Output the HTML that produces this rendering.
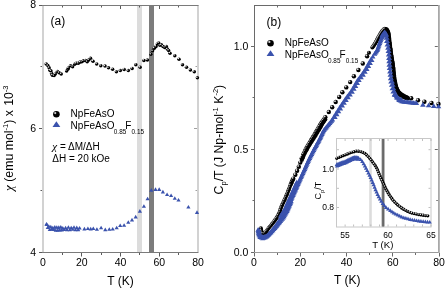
<!DOCTYPE html>
<html><head><meta charset="utf-8"><style>
html,body{margin:0;padding:0;background:#fff;width:445px;height:288px;overflow:hidden}
svg{display:block}
text{font-family:"Liberation Sans", sans-serif;fill:#000}
</style></head><body>
<svg width="445" height="288" viewBox="0 0 445 288" style="will-change:transform">
<rect width="445" height="288" fill="#fff"/>
<rect x="137" y="5" width="5" height="247" fill="#dcdcdc"/>
<rect x="149" y="5" width="5" height="247" fill="#7c7c7c"/>
<rect x="42" y="5" width="2" height="247" fill="#d2d2d2"/>
<rect x="197" y="5" width="2" height="247" fill="#d2d2d2"/>
<rect x="42" y="5" width="156.5" height="1" fill="#7a7a7a"/>
<rect x="42" y="252" width="156.5" height="1" fill="#7a7a7a"/>
<rect x="62" y="253" width="1" height="2" fill="#5a5a5a"/>
<rect x="62" y="6" width="1" height="1.5" fill="#5a5a5a"/>
<rect x="81" y="253" width="1" height="3.5" fill="#5a5a5a"/>
<rect x="81" y="6" width="1" height="3" fill="#5a5a5a"/>
<rect x="101" y="253" width="1" height="2" fill="#5a5a5a"/>
<rect x="101" y="6" width="1" height="1.5" fill="#5a5a5a"/>
<rect x="120" y="253" width="1" height="3.5" fill="#5a5a5a"/>
<rect x="120" y="6" width="1" height="3" fill="#5a5a5a"/>
<rect x="139" y="253" width="1" height="2" fill="#5a5a5a"/>
<rect x="139" y="6" width="1" height="1.5" fill="#5a5a5a"/>
<rect x="159" y="253" width="1" height="3.5" fill="#5a5a5a"/>
<rect x="159" y="6" width="1" height="3" fill="#5a5a5a"/>
<rect x="178" y="253" width="1" height="2" fill="#5a5a5a"/>
<rect x="178" y="6" width="1" height="1.5" fill="#5a5a5a"/>
<rect x="39" y="252" width="3" height="1" fill="#5a5a5a"/>
<rect x="40.5" y="190" width="1.5" height="1" fill="#5a5a5a"/>
<rect x="195.5" y="190" width="1.5" height="1" fill="#a0a0a0"/>
<rect x="39" y="128" width="3" height="1" fill="#5a5a5a"/>
<rect x="194" y="128" width="3" height="1" fill="#a0a0a0"/>
<rect x="40.5" y="66" width="1.5" height="1" fill="#5a5a5a"/>
<rect x="195.5" y="66" width="1.5" height="1" fill="#a0a0a0"/>
<rect x="39" y="5" width="3" height="1" fill="#5a5a5a"/>
<path d="M44.4 225.6L46.5 222L48.6 225.6Z" fill="#3a52ad"/>
<path d="M44.7 225.99L46.8 222.39L48.9 225.99Z" fill="#3a52ad"/>
<path d="M45.7 229.07L47.8 225.47L49.9 229.07Z" fill="#3a52ad"/>
<path d="M46.7 227.75L48.8 224.15L50.9 227.75Z" fill="#3a52ad"/>
<path d="M47.7 231.03L49.8 227.43L51.9 231.03Z" fill="#3a52ad"/>
<path d="M48.7 228.47L50.8 224.87L52.9 228.47Z" fill="#3a52ad"/>
<path d="M49.7 230.81L51.8 227.21L53.9 230.81Z" fill="#3a52ad"/>
<path d="M50.7 229.24L52.8 225.64L54.9 229.24Z" fill="#3a52ad"/>
<path d="M51.7 231.06L53.8 227.46L55.9 231.06Z" fill="#3a52ad"/>
<path d="M52.7 228.63L54.8 225.03L56.9 228.63Z" fill="#3a52ad"/>
<path d="M53.7 231.8L55.8 228.2L57.9 231.8Z" fill="#3a52ad"/>
<path d="M54.7 228.87L56.8 225.27L58.9 228.87Z" fill="#3a52ad"/>
<path d="M55.7 231.64L57.8 228.04L59.9 231.64Z" fill="#3a52ad"/>
<path d="M56.7 228.88L58.8 225.28L60.9 228.88Z" fill="#3a52ad"/>
<path d="M57.7 231.44L59.8 227.84L61.9 231.44Z" fill="#3a52ad"/>
<path d="M58.7 228.55L60.8 224.95L62.9 228.55Z" fill="#3a52ad"/>
<path d="M59.7 231.43L61.8 227.83L63.9 231.43Z" fill="#3a52ad"/>
<path d="M60.7 229.59L62.8 225.99L64.9 229.59Z" fill="#3a52ad"/>
<path d="M62.1 231L64.2 227.4L66.3 231Z" fill="#3a52ad"/>
<path d="M63.5 229.46L65.6 225.86L67.7 229.46Z" fill="#3a52ad"/>
<path d="M64.9 231.15L67 227.55L69.1 231.15Z" fill="#3a52ad"/>
<path d="M66.3 228.78L68.4 225.18L70.5 228.78Z" fill="#3a52ad"/>
<path d="M67.7 231.24L69.8 227.64L71.9 231.24Z" fill="#3a52ad"/>
<path d="M69.1 229.31L71.2 225.71L73.3 229.31Z" fill="#3a52ad"/>
<path d="M70.5 230.78L72.6 227.18L74.7 230.78Z" fill="#3a52ad"/>
<path d="M71.9 228.75L74 225.15L76.1 228.75Z" fill="#3a52ad"/>
<path d="M73.3 231.35L75.4 227.75L77.5 231.35Z" fill="#3a52ad"/>
<path d="M74.7 229.19L76.8 225.59L78.9 229.19Z" fill="#3a52ad"/>
<path d="M76.1 231.2L78.2 227.6L80.3 231.2Z" fill="#3a52ad"/>
<path d="M77.5 229.6L79.6 226L81.7 229.6Z" fill="#3a52ad"/>
<path d="M82.3 230.4L84.4 226.8L86.5 230.4Z" fill="#3a52ad"/>
<path d="M85.8 230.1L87.9 226.5L90 230.1Z" fill="#3a52ad"/>
<path d="M88.6 230.4L90.7 226.8L92.8 230.4Z" fill="#3a52ad"/>
<path d="M91.2 230L93.3 226.4L95.4 230Z" fill="#3a52ad"/>
<path d="M94.8 230.8L96.9 227.2L99 230.8Z" fill="#3a52ad"/>
<path d="M99 229.3L101.1 225.7L103.2 229.3Z" fill="#3a52ad"/>
<path d="M103.2 231.2L105.3 227.6L107.4 231.2Z" fill="#3a52ad"/>
<path d="M107.2 230.8L109.3 227.2L111.4 230.8Z" fill="#3a52ad"/>
<path d="M110.6 230.5L112.7 226.9L114.8 230.5Z" fill="#3a52ad"/>
<path d="M114.6 229.3L116.7 225.7L118.8 229.3Z" fill="#3a52ad"/>
<path d="M118.1 227L120.2 223.4L122.3 227Z" fill="#3a52ad"/>
<path d="M122 226.8L124.1 223.2L126.2 226.8Z" fill="#3a52ad"/>
<path d="M126.2 223.8L128.3 220.2L130.4 223.8Z" fill="#3a52ad"/>
<path d="M129.9 221.4L132 217.8L134.1 221.4Z" fill="#3a52ad"/>
<path d="M133.6 218.4L135.7 214.8L137.8 218.4Z" fill="#3a52ad"/>
<path d="M137.8 212.7L139.9 209.1L142 212.7Z" fill="#3a52ad"/>
<path d="M141.8 207.8L143.9 204.2L146 207.8Z" fill="#3a52ad"/>
<path d="M145.5 200.3L147.6 196.7L149.7 200.3Z" fill="#3a52ad"/>
<path d="M149.2 191.7L151.3 188.1L153.4 191.7Z" fill="#3a52ad"/>
<path d="M153.4 190.9L155.5 187.3L157.6 190.9Z" fill="#3a52ad"/>
<path d="M157.1 190.9L159.2 187.3L161.3 190.9Z" fill="#3a52ad"/>
<path d="M160.8 193.4L162.9 189.8L165 193.4Z" fill="#3a52ad"/>
<path d="M165 196.1L167.1 192.5L169.2 196.1Z" fill="#3a52ad"/>
<path d="M169 197.1L171.1 193.5L173.2 197.1Z" fill="#3a52ad"/>
<path d="M172.7 199.8L174.8 196.2L176.9 199.8Z" fill="#3a52ad"/>
<path d="M176.4 201.6L178.5 198L180.6 201.6Z" fill="#3a52ad"/>
<path d="M186.3 208.5L188.4 204.9L190.5 208.5Z" fill="#3a52ad"/>
<path d="M194.9 213.9L197 210.3L199.1 213.9Z" fill="#3a52ad"/>
<circle cx="46.2" cy="63.9" r="1.75" fill="#000"/>
<circle cx="45.6" cy="63.25" r="0.75" fill="#fff" fill-opacity="0.9"/>
<circle cx="47.8" cy="65.6" r="1.75" fill="#000"/>
<circle cx="47.2" cy="64.95" r="0.75" fill="#fff" fill-opacity="0.9"/>
<circle cx="49.1" cy="67.7" r="1.75" fill="#000"/>
<circle cx="48.5" cy="67.05" r="0.75" fill="#fff" fill-opacity="0.9"/>
<circle cx="49.9" cy="70.2" r="1.75" fill="#000"/>
<circle cx="49.3" cy="69.55" r="0.75" fill="#fff" fill-opacity="0.9"/>
<circle cx="51" cy="71" r="1.75" fill="#000"/>
<circle cx="50.4" cy="70.35" r="0.75" fill="#fff" fill-opacity="0.9"/>
<circle cx="51.6" cy="73.5" r="1.75" fill="#000"/>
<circle cx="51" cy="72.85" r="0.75" fill="#fff" fill-opacity="0.9"/>
<circle cx="52.4" cy="75.2" r="1.75" fill="#000"/>
<circle cx="51.8" cy="74.55" r="0.75" fill="#fff" fill-opacity="0.9"/>
<circle cx="54.1" cy="75.6" r="1.75" fill="#000"/>
<circle cx="53.5" cy="74.95" r="0.75" fill="#fff" fill-opacity="0.9"/>
<circle cx="55.3" cy="73.9" r="1.75" fill="#000"/>
<circle cx="54.7" cy="73.25" r="0.75" fill="#fff" fill-opacity="0.9"/>
<circle cx="57.4" cy="71.4" r="1.75" fill="#000"/>
<circle cx="56.8" cy="70.75" r="0.75" fill="#fff" fill-opacity="0.9"/>
<circle cx="59.1" cy="72.7" r="1.75" fill="#000"/>
<circle cx="58.5" cy="72.05" r="0.75" fill="#fff" fill-opacity="0.9"/>
<circle cx="61.2" cy="73.9" r="1.75" fill="#000"/>
<circle cx="60.6" cy="73.25" r="0.75" fill="#fff" fill-opacity="0.9"/>
<circle cx="66.6" cy="71" r="1.75" fill="#000"/>
<circle cx="66" cy="70.35" r="0.75" fill="#fff" fill-opacity="0.9"/>
<circle cx="67.8" cy="69.3" r="1.75" fill="#000"/>
<circle cx="67.2" cy="68.65" r="0.75" fill="#fff" fill-opacity="0.9"/>
<circle cx="68.4" cy="67.9" r="1.75" fill="#000"/>
<circle cx="67.8" cy="67.25" r="0.75" fill="#fff" fill-opacity="0.9"/>
<circle cx="70.5" cy="65.8" r="1.75" fill="#000"/>
<circle cx="69.9" cy="65.15" r="0.75" fill="#fff" fill-opacity="0.9"/>
<circle cx="72.6" cy="66.7" r="1.75" fill="#000"/>
<circle cx="72" cy="66.05" r="0.75" fill="#fff" fill-opacity="0.9"/>
<circle cx="74.7" cy="64.2" r="1.75" fill="#000"/>
<circle cx="74.1" cy="63.55" r="0.75" fill="#fff" fill-opacity="0.9"/>
<circle cx="76.3" cy="63.3" r="1.75" fill="#000"/>
<circle cx="75.7" cy="62.65" r="0.75" fill="#fff" fill-opacity="0.9"/>
<circle cx="78.4" cy="63.3" r="1.75" fill="#000"/>
<circle cx="77.8" cy="62.65" r="0.75" fill="#fff" fill-opacity="0.9"/>
<circle cx="80.1" cy="62.1" r="1.75" fill="#000"/>
<circle cx="79.5" cy="61.45" r="0.75" fill="#fff" fill-opacity="0.9"/>
<circle cx="81.75" cy="61.7" r="1.75" fill="#000"/>
<circle cx="81.15" cy="61.05" r="0.75" fill="#fff" fill-opacity="0.9"/>
<circle cx="83.4" cy="60.8" r="1.75" fill="#000"/>
<circle cx="82.8" cy="60.15" r="0.75" fill="#fff" fill-opacity="0.9"/>
<circle cx="85.5" cy="60.4" r="1.75" fill="#000"/>
<circle cx="84.9" cy="59.75" r="0.75" fill="#fff" fill-opacity="0.9"/>
<circle cx="87.2" cy="61.7" r="1.75" fill="#000"/>
<circle cx="86.6" cy="61.05" r="0.75" fill="#fff" fill-opacity="0.9"/>
<circle cx="88.8" cy="60" r="1.75" fill="#000"/>
<circle cx="88.2" cy="59.35" r="0.75" fill="#fff" fill-opacity="0.9"/>
<circle cx="90.5" cy="58.3" r="1.75" fill="#000"/>
<circle cx="89.9" cy="57.65" r="0.75" fill="#fff" fill-opacity="0.9"/>
<circle cx="93" cy="61.25" r="1.75" fill="#000"/>
<circle cx="92.4" cy="60.6" r="0.75" fill="#fff" fill-opacity="0.9"/>
<circle cx="96.7" cy="63.9" r="1.75" fill="#000"/>
<circle cx="96.1" cy="63.25" r="0.75" fill="#fff" fill-opacity="0.9"/>
<circle cx="100.8" cy="65.7" r="1.75" fill="#000"/>
<circle cx="100.2" cy="65.05" r="0.75" fill="#fff" fill-opacity="0.9"/>
<circle cx="105" cy="66.1" r="1.75" fill="#000"/>
<circle cx="104.4" cy="65.45" r="0.75" fill="#fff" fill-opacity="0.9"/>
<circle cx="108.5" cy="67.8" r="1.75" fill="#000"/>
<circle cx="107.9" cy="67.15" r="0.75" fill="#fff" fill-opacity="0.9"/>
<circle cx="112.6" cy="69.2" r="1.75" fill="#000"/>
<circle cx="112" cy="68.55" r="0.75" fill="#fff" fill-opacity="0.9"/>
<circle cx="116.4" cy="71.7" r="1.75" fill="#000"/>
<circle cx="115.8" cy="71.05" r="0.75" fill="#fff" fill-opacity="0.9"/>
<circle cx="120.3" cy="70.6" r="1.75" fill="#000"/>
<circle cx="119.7" cy="69.95" r="0.75" fill="#fff" fill-opacity="0.9"/>
<circle cx="124.2" cy="69.4" r="1.75" fill="#000"/>
<circle cx="123.6" cy="68.75" r="0.75" fill="#fff" fill-opacity="0.9"/>
<circle cx="128.3" cy="70.6" r="1.75" fill="#000"/>
<circle cx="127.7" cy="69.95" r="0.75" fill="#fff" fill-opacity="0.9"/>
<circle cx="132.1" cy="68.5" r="1.75" fill="#000"/>
<circle cx="131.5" cy="67.85" r="0.75" fill="#fff" fill-opacity="0.9"/>
<circle cx="135.8" cy="64.7" r="1.75" fill="#000"/>
<circle cx="135.2" cy="64.05" r="0.75" fill="#fff" fill-opacity="0.9"/>
<circle cx="140.1" cy="67.3" r="1.75" fill="#000"/>
<circle cx="139.5" cy="66.65" r="0.75" fill="#fff" fill-opacity="0.9"/>
<circle cx="143.9" cy="60.4" r="1.75" fill="#000"/>
<circle cx="143.3" cy="59.75" r="0.75" fill="#fff" fill-opacity="0.9"/>
<circle cx="147.4" cy="59.9" r="1.75" fill="#000"/>
<circle cx="146.8" cy="59.25" r="0.75" fill="#fff" fill-opacity="0.9"/>
<circle cx="150.8" cy="54.3" r="1.75" fill="#000"/>
<circle cx="150.2" cy="53.65" r="0.75" fill="#fff" fill-opacity="0.9"/>
<circle cx="152.6" cy="50.8" r="1.75" fill="#000"/>
<circle cx="152" cy="50.15" r="0.75" fill="#fff" fill-opacity="0.9"/>
<circle cx="154.3" cy="48.2" r="1.75" fill="#000"/>
<circle cx="153.7" cy="47.55" r="0.75" fill="#fff" fill-opacity="0.9"/>
<circle cx="156" cy="46.5" r="1.75" fill="#000"/>
<circle cx="155.4" cy="45.85" r="0.75" fill="#fff" fill-opacity="0.9"/>
<circle cx="157.4" cy="43.9" r="1.75" fill="#000"/>
<circle cx="156.8" cy="43.25" r="0.75" fill="#fff" fill-opacity="0.9"/>
<circle cx="158.7" cy="43" r="1.75" fill="#000"/>
<circle cx="158.1" cy="42.35" r="0.75" fill="#fff" fill-opacity="0.9"/>
<circle cx="159.9" cy="45.3" r="1.75" fill="#000"/>
<circle cx="159.3" cy="44.65" r="0.75" fill="#fff" fill-opacity="0.9"/>
<circle cx="161.3" cy="44.8" r="1.75" fill="#000"/>
<circle cx="160.7" cy="44.15" r="0.75" fill="#fff" fill-opacity="0.9"/>
<circle cx="163" cy="46.5" r="1.75" fill="#000"/>
<circle cx="162.4" cy="45.85" r="0.75" fill="#fff" fill-opacity="0.9"/>
<circle cx="164.7" cy="47.4" r="1.75" fill="#000"/>
<circle cx="164.1" cy="46.75" r="0.75" fill="#fff" fill-opacity="0.9"/>
<circle cx="166.3" cy="46.5" r="1.75" fill="#000"/>
<circle cx="165.7" cy="45.85" r="0.75" fill="#fff" fill-opacity="0.9"/>
<circle cx="167.3" cy="49.1" r="1.75" fill="#000"/>
<circle cx="166.7" cy="48.45" r="0.75" fill="#fff" fill-opacity="0.9"/>
<circle cx="168.6" cy="50.5" r="1.75" fill="#000"/>
<circle cx="168" cy="49.85" r="0.75" fill="#fff" fill-opacity="0.9"/>
<circle cx="170" cy="53.2" r="1.75" fill="#000"/>
<circle cx="169.4" cy="52.55" r="0.75" fill="#fff" fill-opacity="0.9"/>
<circle cx="174.8" cy="55.7" r="1.75" fill="#000"/>
<circle cx="174.2" cy="55.05" r="0.75" fill="#fff" fill-opacity="0.9"/>
<circle cx="179" cy="59.2" r="1.75" fill="#000"/>
<circle cx="178.4" cy="58.55" r="0.75" fill="#fff" fill-opacity="0.9"/>
<circle cx="182.5" cy="64.7" r="1.75" fill="#000"/>
<circle cx="181.9" cy="64.05" r="0.75" fill="#fff" fill-opacity="0.9"/>
<circle cx="186.5" cy="67.3" r="1.75" fill="#000"/>
<circle cx="185.9" cy="66.65" r="0.75" fill="#fff" fill-opacity="0.9"/>
<circle cx="190.4" cy="70" r="1.75" fill="#000"/>
<circle cx="189.8" cy="69.35" r="0.75" fill="#fff" fill-opacity="0.9"/>
<circle cx="194.3" cy="71.7" r="1.75" fill="#000"/>
<circle cx="193.7" cy="71.05" r="0.75" fill="#fff" fill-opacity="0.9"/>
<circle cx="197.4" cy="77.8" r="1.75" fill="#000"/>
<circle cx="196.8" cy="77.15" r="0.75" fill="#fff" fill-opacity="0.9"/>
<rect x="254" y="5" width="1" height="248" fill="#6a6a6a"/>
<rect x="254" y="5" width="185" height="1" fill="#6a6a6a"/>
<rect x="254" y="252" width="185" height="1" fill="#9a9a9a"/>
<rect x="438" y="5" width="1.8" height="248" fill="#a8a8a8"/>
<rect x="254" y="253" width="1" height="3.5" fill="#6a6a6a"/>
<rect x="277" y="253" width="1" height="2" fill="#6a6a6a"/>
<rect x="277" y="6" width="1" height="1.5" fill="#6a6a6a"/>
<rect x="300" y="253" width="1" height="3.5" fill="#6a6a6a"/>
<rect x="300" y="6" width="1" height="3" fill="#6a6a6a"/>
<rect x="323" y="253" width="1" height="2" fill="#6a6a6a"/>
<rect x="323" y="6" width="1" height="1.5" fill="#6a6a6a"/>
<rect x="346" y="253" width="1" height="3.5" fill="#6a6a6a"/>
<rect x="346" y="6" width="1" height="3" fill="#6a6a6a"/>
<rect x="369" y="253" width="1" height="2" fill="#6a6a6a"/>
<rect x="369" y="6" width="1" height="1.5" fill="#6a6a6a"/>
<rect x="392" y="253" width="1" height="3.5" fill="#6a6a6a"/>
<rect x="392" y="6" width="1" height="3" fill="#6a6a6a"/>
<rect x="415" y="253" width="1" height="2" fill="#6a6a6a"/>
<rect x="415" y="6" width="1" height="1.5" fill="#6a6a6a"/>
<rect x="439" y="253" width="1" height="3.5" fill="#6a6a6a"/>
<rect x="251" y="252" width="3" height="1" fill="#6a6a6a"/>
<rect x="252.5" y="200" width="1.5" height="1" fill="#6a6a6a"/>
<rect x="436.3" y="200" width="1.5" height="1" fill="#6a6a6a"/>
<rect x="251" y="149" width="3" height="1" fill="#6a6a6a"/>
<rect x="434.8" y="149" width="3" height="1" fill="#6a6a6a"/>
<rect x="252.5" y="97" width="1.5" height="1" fill="#6a6a6a"/>
<rect x="436.3" y="97" width="1.5" height="1" fill="#6a6a6a"/>
<rect x="251" y="46" width="3" height="1" fill="#6a6a6a"/>
<rect x="434.8" y="46" width="3" height="1" fill="#6a6a6a"/>
<circle cx="260.9" cy="228.2" r="2" fill="#000"/>
<circle cx="261.21" cy="229.97" r="2" fill="#000"/>
<circle cx="261.67" cy="231.71" r="2" fill="#000"/>
<circle cx="262.5" cy="233.23" r="2" fill="#000"/>
<circle cx="263.9" cy="233.63" r="2" fill="#000"/>
<circle cx="265.33" cy="232.55" r="2" fill="#000"/>
<circle cx="266.43" cy="231.13" r="2" fill="#000"/>
<circle cx="267.51" cy="229.69" r="2" fill="#000"/>
<circle cx="268.53" cy="228.2" r="2" fill="#000"/>
<circle cx="269.67" cy="226.81" r="2" fill="#000"/>
<circle cx="270.86" cy="225.46" r="2" fill="#000"/>
<circle cx="271.99" cy="224.06" r="2" fill="#000"/>
<circle cx="273.11" cy="222.65" r="2" fill="#000"/>
<circle cx="274.19" cy="221.21" r="2" fill="#000"/>
<circle cx="275.27" cy="219.77" r="2" fill="#000"/>
<circle cx="276.36" cy="218.34" r="2" fill="#000"/>
<circle cx="277.33" cy="216.83" r="2" fill="#000"/>
<circle cx="278.12" cy="215.22" r="2" fill="#000"/>
<circle cx="278.91" cy="213.6" r="2" fill="#000"/>
<circle cx="279.67" cy="211.97" r="2" fill="#000"/>
<circle cx="280.2" cy="210.25" r="2" fill="#000"/>
<circle cx="280.73" cy="208.53" r="2" fill="#000"/>
<circle cx="281.37" cy="206.85" r="2" fill="#000"/>
<circle cx="282.03" cy="205.18" r="2" fill="#000"/>
<circle cx="282.76" cy="203.53" r="2" fill="#000"/>
<circle cx="283.54" cy="201.91" r="2" fill="#000"/>
<circle cx="284.32" cy="200.29" r="2" fill="#000"/>
<circle cx="285.05" cy="198.64" r="2" fill="#000"/>
<circle cx="285.76" cy="196.99" r="2" fill="#000"/>
<circle cx="286.47" cy="195.33" r="2" fill="#000"/>
<circle cx="287.18" cy="193.68" r="2" fill="#000"/>
<circle cx="287.86" cy="192.01" r="2" fill="#000"/>
<circle cx="288.49" cy="190.33" r="2" fill="#000"/>
<circle cx="289.12" cy="188.64" r="2" fill="#000"/>
<circle cx="289.75" cy="186.96" r="2" fill="#000"/>
<circle cx="290.39" cy="185.27" r="2" fill="#000"/>
<circle cx="291.07" cy="183.61" r="2.2" fill="#000"/>
<circle cx="290.37" cy="182.81" r="0.9" fill="#fff" fill-opacity="0.85"/>
<circle cx="291.78" cy="181.95" r="2.2" fill="#000"/>
<circle cx="291.08" cy="181.15" r="0.9" fill="#fff" fill-opacity="0.85"/>
<circle cx="292.49" cy="180.3" r="2.2" fill="#000"/>
<circle cx="291.79" cy="179.5" r="0.9" fill="#fff" fill-opacity="0.85"/>
<circle cx="293.26" cy="178.67" r="2.2" fill="#000"/>
<circle cx="292.56" cy="177.87" r="0.9" fill="#fff" fill-opacity="0.85"/>
<circle cx="295.35" cy="174.81" r="2.2" fill="#000"/>
<circle cx="294.65" cy="174.01" r="0.9" fill="#fff" fill-opacity="0.85"/>
<circle cx="297.12" cy="170.78" r="2.2" fill="#000"/>
<circle cx="296.42" cy="169.98" r="0.9" fill="#fff" fill-opacity="0.85"/>
<circle cx="298.81" cy="166.73" r="2.2" fill="#000"/>
<circle cx="298.11" cy="165.93" r="0.9" fill="#fff" fill-opacity="0.85"/>
<circle cx="300.29" cy="162.58" r="2.2" fill="#000"/>
<circle cx="299.59" cy="161.78" r="0.9" fill="#fff" fill-opacity="0.85"/>
<circle cx="301.71" cy="158.42" r="2.2" fill="#000"/>
<circle cx="301.01" cy="157.62" r="0.9" fill="#fff" fill-opacity="0.85"/>
<circle cx="303.29" cy="154.31" r="2" fill="#000"/>
<circle cx="304.04" cy="152.68" r="2" fill="#000"/>
<circle cx="304.79" cy="151.05" r="2" fill="#000"/>
<circle cx="305.55" cy="149.41" r="2" fill="#000"/>
<circle cx="306.45" cy="147.85" r="2" fill="#000"/>
<circle cx="307.35" cy="146.3" r="2" fill="#000"/>
<circle cx="308.26" cy="144.74" r="2" fill="#000"/>
<circle cx="309.17" cy="143.19" r="2" fill="#000"/>
<circle cx="310.07" cy="141.63" r="2" fill="#000"/>
<circle cx="310.98" cy="140.08" r="2" fill="#000"/>
<circle cx="311.89" cy="138.52" r="2" fill="#000"/>
<circle cx="312.8" cy="136.97" r="2" fill="#000"/>
<circle cx="313.74" cy="135.44" r="2" fill="#000"/>
<circle cx="314.68" cy="133.9" r="2" fill="#000"/>
<circle cx="315.62" cy="132.37" r="2" fill="#000"/>
<circle cx="316.57" cy="130.83" r="2" fill="#000"/>
<circle cx="317.49" cy="129.29" r="2" fill="#000"/>
<circle cx="318.38" cy="127.72" r="2" fill="#000"/>
<circle cx="319.26" cy="126.16" r="2" fill="#000"/>
<circle cx="320.15" cy="124.59" r="2" fill="#000"/>
<circle cx="321.11" cy="123.07" r="2" fill="#000"/>
<circle cx="322.16" cy="121.6" r="2" fill="#000"/>
<circle cx="323.2" cy="120.14" r="2" fill="#000"/>
<circle cx="324.25" cy="118.68" r="2" fill="#000"/>
<circle cx="368.95" cy="52.71" r="2" fill="#000"/>
<circle cx="372.34" cy="47.53" r="2" fill="#000"/>
<circle cx="373.04" cy="46.55" r="2" fill="#000"/>
<circle cx="373.73" cy="45.57" r="2" fill="#000"/>
<circle cx="374.43" cy="44.6" r="2" fill="#000"/>
<circle cx="375.04" cy="43.56" r="2" fill="#000"/>
<circle cx="375.63" cy="42.52" r="2" fill="#000"/>
<circle cx="376.23" cy="41.48" r="2" fill="#000"/>
<circle cx="376.79" cy="40.42" r="2" fill="#000"/>
<circle cx="377.33" cy="39.34" r="2" fill="#000"/>
<circle cx="377.86" cy="38.27" r="2" fill="#000"/>
<circle cx="378.4" cy="37.2" r="2" fill="#000"/>
<circle cx="379" cy="36.16" r="2" fill="#000"/>
<circle cx="379.62" cy="35.13" r="2" fill="#000"/>
<circle cx="380.24" cy="34.1" r="2" fill="#000"/>
<circle cx="380.9" cy="33.1" r="2" fill="#000"/>
<circle cx="381.56" cy="32.1" r="2" fill="#000"/>
<circle cx="382.23" cy="31.1" r="2" fill="#000"/>
<circle cx="383.04" cy="30.22" r="2" fill="#000"/>
<circle cx="383.87" cy="29.36" r="2" fill="#000"/>
<circle cx="384.79" cy="28.74" r="2" fill="#000"/>
<circle cx="385.98" cy="28.9" r="2" fill="#000"/>
<circle cx="386.92" cy="29.42" r="2" fill="#000"/>
<circle cx="387.47" cy="30.48" r="2" fill="#000"/>
<circle cx="388.02" cy="31.55" r="2" fill="#000"/>
<circle cx="388.36" cy="32.7" r="2" fill="#000"/>
<circle cx="388.71" cy="33.85" r="2" fill="#000"/>
<circle cx="388.86" cy="35.04" r="2" fill="#000"/>
<circle cx="388.99" cy="36.23" r="2" fill="#000"/>
<circle cx="389.11" cy="37.42" r="2" fill="#000"/>
<circle cx="389.24" cy="38.62" r="2" fill="#000"/>
<circle cx="389.37" cy="39.81" r="2" fill="#000"/>
<circle cx="389.49" cy="41" r="2" fill="#000"/>
<circle cx="389.63" cy="42.2" r="2" fill="#000"/>
<circle cx="389.78" cy="43.39" r="2" fill="#000"/>
<circle cx="389.94" cy="44.58" r="2" fill="#000"/>
<circle cx="390.1" cy="45.77" r="2" fill="#000"/>
<circle cx="390.26" cy="46.95" r="2" fill="#000"/>
<circle cx="390.42" cy="48.14" r="2" fill="#000"/>
<circle cx="390.58" cy="49.33" r="2" fill="#000"/>
<circle cx="390.74" cy="50.52" r="2" fill="#000"/>
<circle cx="390.9" cy="51.71" r="2" fill="#000"/>
<circle cx="391.05" cy="52.9" r="2" fill="#000"/>
<circle cx="391.21" cy="54.09" r="2" fill="#000"/>
<circle cx="391.41" cy="55.28" r="2" fill="#000"/>
<circle cx="391.6" cy="56.46" r="2" fill="#000"/>
<circle cx="391.8" cy="57.64" r="2" fill="#000"/>
<circle cx="391.99" cy="58.83" r="2" fill="#000"/>
<circle cx="392.18" cy="60.01" r="2" fill="#000"/>
<circle cx="392.38" cy="61.2" r="2" fill="#000"/>
<circle cx="392.57" cy="62.38" r="2" fill="#000"/>
<circle cx="392.77" cy="63.57" r="2" fill="#000"/>
<circle cx="392.96" cy="64.75" r="2" fill="#000"/>
<circle cx="393.1" cy="65.94" r="2" fill="#000"/>
<circle cx="393.23" cy="67.13" r="2" fill="#000"/>
<circle cx="393.36" cy="68.33" r="2" fill="#000"/>
<circle cx="393.49" cy="69.52" r="2" fill="#000"/>
<circle cx="393.62" cy="70.71" r="2" fill="#000"/>
<circle cx="393.74" cy="71.91" r="2" fill="#000"/>
<circle cx="393.87" cy="73.1" r="2" fill="#000"/>
<circle cx="394" cy="74.29" r="2" fill="#000"/>
<circle cx="394.13" cy="75.49" r="2" fill="#000"/>
<circle cx="394.26" cy="76.68" r="2" fill="#000"/>
<circle cx="394.39" cy="77.87" r="2" fill="#000"/>
<circle cx="394.59" cy="79.05" r="2" fill="#000"/>
<circle cx="394.81" cy="80.23" r="2" fill="#000"/>
<circle cx="395.03" cy="81.41" r="2" fill="#000"/>
<circle cx="395.24" cy="82.59" r="2" fill="#000"/>
<circle cx="395.46" cy="83.77" r="2" fill="#000"/>
<circle cx="395.76" cy="84.94" r="2" fill="#000"/>
<circle cx="396.08" cy="86.09" r="2" fill="#000"/>
<circle cx="396.39" cy="87.25" r="2" fill="#000"/>
<circle cx="396.78" cy="88.38" r="2" fill="#000"/>
<circle cx="397.31" cy="89.46" r="2" fill="#000"/>
<circle cx="397.83" cy="90.54" r="2" fill="#000"/>
<circle cx="398.39" cy="91.59" r="2" fill="#000"/>
<circle cx="399.24" cy="92.44" r="2" fill="#000"/>
<circle cx="400.09" cy="93.29" r="2" fill="#000"/>
<circle cx="400.97" cy="94.1" r="2" fill="#000"/>
<circle cx="402" cy="94.71" r="2" fill="#000"/>
<circle cx="403.03" cy="95.33" r="2" fill="#000"/>
<circle cx="404.07" cy="95.93" r="2" fill="#000"/>
<circle cx="405.16" cy="96.42" r="2" fill="#000"/>
<circle cx="406.26" cy="96.9" r="2" fill="#000"/>
<circle cx="407.36" cy="97.39" r="2" fill="#000"/>
<circle cx="325.3" cy="117.2" r="2.2" fill="#000"/>
<circle cx="324.6" cy="116.4" r="0.9" fill="#fff" fill-opacity="0.85"/>
<circle cx="328.8" cy="112" r="2.2" fill="#000"/>
<circle cx="328.1" cy="111.2" r="0.9" fill="#fff" fill-opacity="0.85"/>
<circle cx="332.2" cy="107.2" r="2.2" fill="#000"/>
<circle cx="331.5" cy="106.4" r="0.9" fill="#fff" fill-opacity="0.85"/>
<circle cx="335.7" cy="102" r="2.2" fill="#000"/>
<circle cx="335" cy="101.2" r="0.9" fill="#fff" fill-opacity="0.85"/>
<circle cx="339.2" cy="97" r="2.2" fill="#000"/>
<circle cx="338.5" cy="96.2" r="0.9" fill="#fff" fill-opacity="0.85"/>
<circle cx="342.4" cy="92.2" r="2.2" fill="#000"/>
<circle cx="341.7" cy="91.4" r="0.9" fill="#fff" fill-opacity="0.85"/>
<circle cx="346.3" cy="87.4" r="2.2" fill="#000"/>
<circle cx="345.6" cy="86.6" r="0.9" fill="#fff" fill-opacity="0.85"/>
<circle cx="350.2" cy="82.1" r="2.2" fill="#000"/>
<circle cx="349.5" cy="81.3" r="0.9" fill="#fff" fill-opacity="0.85"/>
<circle cx="353.9" cy="76.3" r="2.2" fill="#000"/>
<circle cx="353.2" cy="75.5" r="0.9" fill="#fff" fill-opacity="0.85"/>
<circle cx="358.4" cy="70" r="2.2" fill="#000"/>
<circle cx="357.7" cy="69.2" r="0.9" fill="#fff" fill-opacity="0.85"/>
<circle cx="362.8" cy="63.5" r="2.2" fill="#000"/>
<circle cx="362.1" cy="62.7" r="0.9" fill="#fff" fill-opacity="0.85"/>
<circle cx="367.1" cy="56.2" r="2.2" fill="#000"/>
<circle cx="366.4" cy="55.4" r="0.9" fill="#fff" fill-opacity="0.85"/>
<circle cx="411.2" cy="98.3" r="2.2" fill="#000"/>
<circle cx="410.5" cy="97.5" r="0.9" fill="#fff" fill-opacity="0.85"/>
<circle cx="418" cy="100.3" r="2.2" fill="#000"/>
<circle cx="417.3" cy="99.5" r="0.9" fill="#fff" fill-opacity="0.85"/>
<circle cx="424.4" cy="101.7" r="2.2" fill="#000"/>
<circle cx="423.7" cy="100.9" r="0.9" fill="#fff" fill-opacity="0.85"/>
<circle cx="431.5" cy="103" r="2.2" fill="#000"/>
<circle cx="430.8" cy="102.2" r="0.9" fill="#fff" fill-opacity="0.85"/>
<circle cx="438.5" cy="104" r="2.2" fill="#000"/>
<circle cx="437.8" cy="103.2" r="0.9" fill="#fff" fill-opacity="0.85"/>
<circle cx="301.9" cy="160" r="2.0" fill="#000"/>
<circle cx="302.57" cy="158.33" r="2.0" fill="#000"/>
<circle cx="303.24" cy="156.66" r="2.0" fill="#000"/>
<circle cx="303.91" cy="154.99" r="2.0" fill="#000"/>
<circle cx="304.71" cy="153.38" r="2.0" fill="#000"/>
<circle cx="305.57" cy="151.8" r="2.0" fill="#000"/>
<circle cx="306.42" cy="150.21" r="2.0" fill="#000"/>
<circle cx="307.28" cy="148.63" r="2.0" fill="#000"/>
<circle cx="308.22" cy="147.09" r="2.0" fill="#000"/>
<circle cx="309.16" cy="145.56" r="2.0" fill="#000"/>
<circle cx="310.09" cy="144.02" r="2.0" fill="#000"/>
<circle cx="311.04" cy="142.49" r="2.0" fill="#000"/>
<circle cx="312.01" cy="140.97" r="2.0" fill="#000"/>
<circle cx="312.99" cy="139.46" r="2.0" fill="#000"/>
<circle cx="313.96" cy="137.95" r="2.0" fill="#000"/>
<circle cx="314.93" cy="136.43" r="2.0" fill="#000"/>
<circle cx="315.87" cy="134.89" r="2.0" fill="#000"/>
<circle cx="316.8" cy="133.36" r="2.0" fill="#000"/>
<circle cx="317.74" cy="131.82" r="2.0" fill="#000"/>
<circle cx="318.68" cy="130.29" r="2.0" fill="#000"/>
<circle cx="319.59" cy="128.73" r="2.0" fill="#000"/>
<circle cx="320.48" cy="127.17" r="2.0" fill="#000"/>
<circle cx="321.37" cy="125.6" r="2.0" fill="#000"/>
<circle cx="322.26" cy="124.04" r="2.0" fill="#000"/>
<circle cx="323.27" cy="122.55" r="2.0" fill="#000"/>
<circle cx="324.3" cy="121.07" r="2.0" fill="#000"/>
<circle cx="325.33" cy="119.6" r="2.0" fill="#000"/>
<circle cx="395.8" cy="87" r="2.0" fill="#000"/>
<circle cx="396.22" cy="88.12" r="2.0" fill="#000"/>
<circle cx="396.64" cy="89.25" r="2.0" fill="#000"/>
<circle cx="397.06" cy="90.37" r="2.0" fill="#000"/>
<circle cx="397.59" cy="91.44" r="2.0" fill="#000"/>
<circle cx="398.26" cy="92.44" r="2.0" fill="#000"/>
<circle cx="398.92" cy="93.44" r="2.0" fill="#000"/>
<circle cx="399.63" cy="94.4" r="2.0" fill="#000"/>
<circle cx="400.58" cy="95.13" r="2.0" fill="#000"/>
<circle cx="401.53" cy="95.86" r="2.0" fill="#000"/>
<circle cx="402.49" cy="96.59" r="2.0" fill="#000"/>
<circle cx="403.6" cy="97.04" r="2.0" fill="#000"/>
<circle cx="404.71" cy="97.48" r="2.0" fill="#000"/>
<circle cx="405.83" cy="97.93" r="2.0" fill="#000"/>
<circle cx="406.98" cy="98.24" r="2.0" fill="#000"/>
<circle cx="408.15" cy="98.52" r="2.0" fill="#000"/>
<circle cx="260.2" cy="227.44" r="0.68" fill="#fff" fill-opacity="0.7"/>
<circle cx="260.51" cy="229.21" r="0.68" fill="#fff" fill-opacity="0.7"/>
<circle cx="260.97" cy="230.95" r="0.68" fill="#fff" fill-opacity="0.7"/>
<circle cx="261.8" cy="232.47" r="0.68" fill="#fff" fill-opacity="0.7"/>
<circle cx="263.2" cy="232.87" r="0.68" fill="#fff" fill-opacity="0.7"/>
<circle cx="264.63" cy="231.79" r="0.68" fill="#fff" fill-opacity="0.7"/>
<circle cx="265.73" cy="230.37" r="0.68" fill="#fff" fill-opacity="0.7"/>
<circle cx="266.81" cy="228.93" r="0.68" fill="#fff" fill-opacity="0.7"/>
<circle cx="267.83" cy="227.44" r="0.68" fill="#fff" fill-opacity="0.7"/>
<circle cx="268.97" cy="226.05" r="0.68" fill="#fff" fill-opacity="0.7"/>
<circle cx="270.16" cy="224.7" r="0.68" fill="#fff" fill-opacity="0.7"/>
<circle cx="271.29" cy="223.3" r="0.68" fill="#fff" fill-opacity="0.7"/>
<circle cx="272.41" cy="221.89" r="0.68" fill="#fff" fill-opacity="0.7"/>
<circle cx="273.49" cy="220.45" r="0.68" fill="#fff" fill-opacity="0.7"/>
<circle cx="274.57" cy="219.01" r="0.68" fill="#fff" fill-opacity="0.7"/>
<circle cx="275.66" cy="217.58" r="0.68" fill="#fff" fill-opacity="0.7"/>
<circle cx="276.63" cy="216.07" r="0.68" fill="#fff" fill-opacity="0.7"/>
<circle cx="277.42" cy="214.46" r="0.68" fill="#fff" fill-opacity="0.7"/>
<circle cx="278.21" cy="212.84" r="0.68" fill="#fff" fill-opacity="0.7"/>
<circle cx="278.97" cy="211.21" r="0.68" fill="#fff" fill-opacity="0.7"/>
<circle cx="279.5" cy="209.49" r="0.68" fill="#fff" fill-opacity="0.7"/>
<circle cx="280.03" cy="207.77" r="0.68" fill="#fff" fill-opacity="0.7"/>
<circle cx="280.67" cy="206.09" r="0.68" fill="#fff" fill-opacity="0.7"/>
<circle cx="281.33" cy="204.42" r="0.68" fill="#fff" fill-opacity="0.7"/>
<circle cx="282.06" cy="202.77" r="0.68" fill="#fff" fill-opacity="0.7"/>
<circle cx="282.84" cy="201.15" r="0.68" fill="#fff" fill-opacity="0.7"/>
<circle cx="283.62" cy="199.53" r="0.68" fill="#fff" fill-opacity="0.7"/>
<circle cx="284.35" cy="197.88" r="0.68" fill="#fff" fill-opacity="0.7"/>
<circle cx="285.06" cy="196.23" r="0.68" fill="#fff" fill-opacity="0.7"/>
<circle cx="285.77" cy="194.57" r="0.68" fill="#fff" fill-opacity="0.7"/>
<circle cx="286.48" cy="192.92" r="0.68" fill="#fff" fill-opacity="0.7"/>
<circle cx="287.16" cy="191.25" r="0.68" fill="#fff" fill-opacity="0.7"/>
<circle cx="287.79" cy="189.57" r="0.68" fill="#fff" fill-opacity="0.7"/>
<circle cx="288.42" cy="187.88" r="0.68" fill="#fff" fill-opacity="0.7"/>
<circle cx="289.05" cy="186.2" r="0.68" fill="#fff" fill-opacity="0.7"/>
<circle cx="289.69" cy="184.51" r="0.68" fill="#fff" fill-opacity="0.7"/>
<circle cx="302.59" cy="153.55" r="0.68" fill="#fff" fill-opacity="0.7"/>
<circle cx="303.34" cy="151.92" r="0.68" fill="#fff" fill-opacity="0.7"/>
<circle cx="304.09" cy="150.29" r="0.68" fill="#fff" fill-opacity="0.7"/>
<circle cx="304.85" cy="148.65" r="0.68" fill="#fff" fill-opacity="0.7"/>
<circle cx="305.75" cy="147.09" r="0.68" fill="#fff" fill-opacity="0.7"/>
<circle cx="306.65" cy="145.54" r="0.68" fill="#fff" fill-opacity="0.7"/>
<circle cx="307.56" cy="143.98" r="0.68" fill="#fff" fill-opacity="0.7"/>
<circle cx="308.47" cy="142.43" r="0.68" fill="#fff" fill-opacity="0.7"/>
<circle cx="309.37" cy="140.87" r="0.68" fill="#fff" fill-opacity="0.7"/>
<circle cx="310.28" cy="139.32" r="0.68" fill="#fff" fill-opacity="0.7"/>
<circle cx="311.19" cy="137.76" r="0.68" fill="#fff" fill-opacity="0.7"/>
<circle cx="312.1" cy="136.21" r="0.68" fill="#fff" fill-opacity="0.7"/>
<circle cx="313.04" cy="134.68" r="0.68" fill="#fff" fill-opacity="0.7"/>
<circle cx="313.98" cy="133.14" r="0.68" fill="#fff" fill-opacity="0.7"/>
<circle cx="314.92" cy="131.61" r="0.68" fill="#fff" fill-opacity="0.7"/>
<circle cx="315.87" cy="130.07" r="0.68" fill="#fff" fill-opacity="0.7"/>
<circle cx="316.79" cy="128.53" r="0.68" fill="#fff" fill-opacity="0.7"/>
<circle cx="317.68" cy="126.96" r="0.68" fill="#fff" fill-opacity="0.7"/>
<circle cx="318.56" cy="125.4" r="0.68" fill="#fff" fill-opacity="0.7"/>
<circle cx="319.45" cy="123.83" r="0.68" fill="#fff" fill-opacity="0.7"/>
<circle cx="320.41" cy="122.31" r="0.68" fill="#fff" fill-opacity="0.7"/>
<circle cx="321.46" cy="120.84" r="0.68" fill="#fff" fill-opacity="0.7"/>
<circle cx="322.5" cy="119.38" r="0.68" fill="#fff" fill-opacity="0.7"/>
<circle cx="323.55" cy="117.92" r="0.68" fill="#fff" fill-opacity="0.7"/>
<circle cx="368.25" cy="51.95" r="0.68" fill="#fff" fill-opacity="0.7"/>
<circle cx="371.64" cy="46.77" r="0.68" fill="#fff" fill-opacity="0.7"/>
<circle cx="372.34" cy="45.79" r="0.68" fill="#fff" fill-opacity="0.7"/>
<circle cx="373.03" cy="44.81" r="0.68" fill="#fff" fill-opacity="0.7"/>
<circle cx="373.73" cy="43.84" r="0.68" fill="#fff" fill-opacity="0.7"/>
<circle cx="374.34" cy="42.8" r="0.68" fill="#fff" fill-opacity="0.7"/>
<circle cx="374.93" cy="41.76" r="0.68" fill="#fff" fill-opacity="0.7"/>
<circle cx="375.53" cy="40.72" r="0.68" fill="#fff" fill-opacity="0.7"/>
<circle cx="376.09" cy="39.66" r="0.68" fill="#fff" fill-opacity="0.7"/>
<circle cx="376.63" cy="38.58" r="0.68" fill="#fff" fill-opacity="0.7"/>
<circle cx="377.16" cy="37.51" r="0.68" fill="#fff" fill-opacity="0.7"/>
<circle cx="377.7" cy="36.44" r="0.68" fill="#fff" fill-opacity="0.7"/>
<circle cx="378.3" cy="35.4" r="0.68" fill="#fff" fill-opacity="0.7"/>
<circle cx="378.92" cy="34.37" r="0.68" fill="#fff" fill-opacity="0.7"/>
<circle cx="379.54" cy="33.34" r="0.68" fill="#fff" fill-opacity="0.7"/>
<circle cx="380.2" cy="32.34" r="0.68" fill="#fff" fill-opacity="0.7"/>
<circle cx="380.86" cy="31.34" r="0.68" fill="#fff" fill-opacity="0.7"/>
<circle cx="381.53" cy="30.34" r="0.68" fill="#fff" fill-opacity="0.7"/>
<circle cx="382.34" cy="29.46" r="0.68" fill="#fff" fill-opacity="0.7"/>
<circle cx="383.17" cy="28.6" r="0.68" fill="#fff" fill-opacity="0.7"/>
<circle cx="384.09" cy="27.98" r="0.68" fill="#fff" fill-opacity="0.7"/>
<path d="M255.4 231.8L258 227.2L260.6 231.8Z" fill="#3a52ad"/>
<path d="M255.57 233.29L258.17 228.69L260.77 233.29Z" fill="#3a52ad"/>
<path d="M255.74 234.78L258.34 230.18L260.94 234.78Z" fill="#3a52ad"/>
<path d="M256.16 236.21L258.76 231.61L261.36 236.21Z" fill="#3a52ad"/>
<path d="M256.72 237.6L259.32 233L261.92 237.6Z" fill="#3a52ad"/>
<path d="M257.39 238.89L259.99 234.29L262.59 238.89Z" fill="#3a52ad"/>
<path d="M258.73 239.56L261.33 234.96L263.93 239.56Z" fill="#3a52ad"/>
<path d="M260.07 240.23L262.67 235.63L265.27 240.23Z" fill="#3a52ad"/>
<path d="M261.44 239.77L264.04 235.17L266.64 239.77Z" fill="#3a52ad"/>
<path d="M262.82 239.18L265.42 234.58L268.02 239.18Z" fill="#3a52ad"/>
<path d="M264.07 238.4L266.67 233.8L269.27 238.4Z" fill="#3a52ad"/>
<path d="M265.09 237.3L267.69 232.7L270.29 237.3Z" fill="#3a52ad"/>
<path d="M266.11 236.2L268.71 231.6L271.31 236.2Z" fill="#3a52ad"/>
<path d="M267.13 235.1L269.73 230.5L272.33 235.1Z" fill="#3a52ad"/>
<path d="M268.09 233.94L270.69 229.34L273.29 233.94Z" fill="#3a52ad"/>
<path d="M269.02 232.77L271.62 228.17L274.22 232.77Z" fill="#3a52ad"/>
<path d="M269.96 231.6L272.56 227L275.16 231.6Z" fill="#3a52ad"/>
<path d="M270.9 230.43L273.5 225.83L276.1 230.43Z" fill="#3a52ad"/>
<path d="M271.82 229.25L274.42 224.65L277.02 229.25Z" fill="#3a52ad"/>
<path d="M272.73 228.05L275.33 223.45L277.93 228.05Z" fill="#3a52ad"/>
<path d="M273.63 226.86L276.23 222.26L278.83 226.86Z" fill="#3a52ad"/>
<path d="M274.54 225.67L277.14 221.07L279.74 225.67Z" fill="#3a52ad"/>
<path d="M275.43 224.46L278.03 219.86L280.63 224.46Z" fill="#3a52ad"/>
<path d="M276.28 223.22L278.88 218.62L281.48 223.22Z" fill="#3a52ad"/>
<path d="M277.12 221.98L279.72 217.38L282.32 221.98Z" fill="#3a52ad"/>
<path d="M277.96 220.74L280.56 216.14L283.16 220.74Z" fill="#3a52ad"/>
<path d="M278.8 219.49L281.4 214.89L284 219.49Z" fill="#3a52ad"/>
<path d="M279.61 218.23L282.21 213.63L284.81 218.23Z" fill="#3a52ad"/>
<path d="M280.42 216.96L283.02 212.36L285.62 216.96Z" fill="#3a52ad"/>
<path d="M281.22 215.7L283.82 211.1L286.42 215.7Z" fill="#3a52ad"/>
<path d="M282.03 214.44L284.63 209.84L287.23 214.44Z" fill="#3a52ad"/>
<path d="M282.84 213.17L285.44 208.57L288.04 213.17Z" fill="#3a52ad"/>
<path d="M283.6 211.88L286.2 207.28L288.8 211.88Z" fill="#3a52ad"/>
<path d="M284.23 210.52L286.83 205.92L289.43 210.52Z" fill="#3a52ad"/>
<path d="M284.87 209.17L287.47 204.57L290.07 209.17Z" fill="#3a52ad"/>
<path d="M285.51 207.81L288.11 203.21L290.71 207.81Z" fill="#3a52ad"/>
<path d="M286.15 206.45L288.75 201.85L291.35 206.45Z" fill="#3a52ad"/>
<path d="M286.79 205.09L289.39 200.49L291.99 205.09Z" fill="#3a52ad"/>
<path d="M287.42 203.74L290.02 199.14L292.62 203.74Z" fill="#3a52ad"/>
<path d="M288.06 202.38L290.66 197.78L293.26 202.38Z" fill="#3a52ad"/>
<path d="M288.68 201.01L291.28 196.41L293.88 201.01Z" fill="#3a52ad"/>
<path d="M289.3 199.64L291.9 195.04L294.5 199.64Z" fill="#3a52ad"/>
<path d="M289.91 198.28L292.51 193.68L295.11 198.28Z" fill="#3a52ad"/>
<path d="M290.53 196.91L293.13 192.31L295.73 196.91Z" fill="#3a52ad"/>
<path d="M291.14 195.54L293.74 190.94L296.34 195.54Z" fill="#3a52ad"/>
<path d="M291.76 194.17L294.36 189.57L296.96 194.17Z" fill="#3a52ad"/>
<path d="M292.37 192.8L294.97 188.2L297.57 192.8Z" fill="#3a52ad"/>
<path d="M292.98 191.43L295.58 186.83L298.18 191.43Z" fill="#3a52ad"/>
<path d="M293.59 190.06L296.19 185.46L298.79 190.06Z" fill="#3a52ad"/>
<path d="M294.19 188.69L296.79 184.09L299.39 188.69Z" fill="#3a52ad"/>
<path d="M294.79 187.31L297.39 182.71L299.99 187.31Z" fill="#3a52ad"/>
<path d="M295.4 185.94L298 181.34L300.6 185.94Z" fill="#3a52ad"/>
<path d="M296 184.57L298.6 179.97L301.2 184.57Z" fill="#3a52ad"/>
<path d="M296.61 183.2L299.21 178.6L301.81 183.2Z" fill="#3a52ad"/>
<path d="M297.21 181.82L299.81 177.22L302.41 181.82Z" fill="#3a52ad"/>
<path d="M297.83 180.46L300.43 175.86L303.03 180.46Z" fill="#3a52ad"/>
<path d="M298.45 179.09L301.05 174.49L303.65 179.09Z" fill="#3a52ad"/>
<path d="M299.06 177.72L301.66 173.12L304.26 177.72Z" fill="#3a52ad"/>
<path d="M299.68 176.35L302.28 171.75L304.88 176.35Z" fill="#3a52ad"/>
<path d="M300.29 174.98L302.89 170.38L305.49 174.98Z" fill="#3a52ad"/>
<path d="M300.91 173.62L303.51 169.02L306.11 173.62Z" fill="#3a52ad"/>
<path d="M301.52 172.25L304.12 167.65L306.72 172.25Z" fill="#3a52ad"/>
<path d="M302.13 170.88L304.73 166.28L307.33 170.88Z" fill="#3a52ad"/>
<path d="M302.73 169.5L305.33 164.9L307.93 169.5Z" fill="#3a52ad"/>
<path d="M303.33 168.13L305.93 163.53L308.53 168.13Z" fill="#3a52ad"/>
<path d="M303.94 166.76L306.54 162.16L309.14 166.76Z" fill="#3a52ad"/>
<path d="M304.54 165.38L307.14 160.78L309.74 165.38Z" fill="#3a52ad"/>
<path d="M305.15 164.01L307.75 159.41L310.35 164.01Z" fill="#3a52ad"/>
<path d="M305.75 162.64L308.35 158.04L310.95 162.64Z" fill="#3a52ad"/>
<path d="M306.41 161.29L309.01 156.69L311.61 161.29Z" fill="#3a52ad"/>
<path d="M307.08 159.95L309.68 155.35L312.28 159.95Z" fill="#3a52ad"/>
<path d="M307.75 158.61L310.35 154.01L312.95 158.61Z" fill="#3a52ad"/>
<path d="M308.42 157.26L311.02 152.66L313.62 157.26Z" fill="#3a52ad"/>
<path d="M309.09 155.92L311.69 151.32L314.29 155.92Z" fill="#3a52ad"/>
<path d="M309.76 154.58L312.36 149.98L314.96 154.58Z" fill="#3a52ad"/>
<path d="M310.43 153.24L313.03 148.64L315.63 153.24Z" fill="#3a52ad"/>
<path d="M311.12 151.91L313.72 147.31L316.32 151.91Z" fill="#3a52ad"/>
<path d="M311.84 150.59L314.44 145.99L317.04 150.59Z" fill="#3a52ad"/>
<path d="M312.56 149.28L315.16 144.68L317.76 149.28Z" fill="#3a52ad"/>
<path d="M313.29 147.96L315.89 143.36L318.49 147.96Z" fill="#3a52ad"/>
<path d="M314.01 146.65L316.61 142.05L319.21 146.65Z" fill="#3a52ad"/>
<path d="M314.73 145.33L317.33 140.73L319.93 145.33Z" fill="#3a52ad"/>
<path d="M315.45 144.02L318.05 139.42L320.65 144.02Z" fill="#3a52ad"/>
<path d="M316.18 142.7L318.78 138.1L321.38 142.7Z" fill="#3a52ad"/>
<path d="M316.85 141.36L319.45 136.76L322.05 141.36Z" fill="#3a52ad"/>
<path d="M317.5 140.01L320.1 135.41L322.7 140.01Z" fill="#3a52ad"/>
<path d="M318.15 138.66L320.75 134.06L323.35 138.66Z" fill="#3a52ad"/>
<path d="M318.8 137.31L321.4 132.71L324 137.31Z" fill="#3a52ad"/>
<path d="M319.45 135.96L322.05 131.36L324.65 135.96Z" fill="#3a52ad"/>
<path d="M320.09 134.6L322.69 130L325.29 134.6Z" fill="#3a52ad"/>
<path d="M320.74 133.25L323.34 128.65L325.94 133.25Z" fill="#3a52ad"/>
<path d="M321.48 131.96L324.08 127.36L326.68 131.96Z" fill="#3a52ad"/>
<path d="M322.43 130.8L325.03 126.2L327.63 130.8Z" fill="#3a52ad"/>
<path d="M323.38 129.64L325.98 125.04L328.58 129.64Z" fill="#3a52ad"/>
<path d="M324.34 128.48L326.94 123.88L329.54 128.48Z" fill="#3a52ad"/>
<path d="M325.29 127.32L327.89 122.72L330.49 127.32Z" fill="#3a52ad"/>
<path d="M326.24 126.16L328.84 121.56L331.44 126.16Z" fill="#3a52ad"/>
<path d="M327.19 125L329.79 120.4L332.39 125Z" fill="#3a52ad"/>
<path d="M328.14 123.84L330.74 119.24L333.34 123.84Z" fill="#3a52ad"/>
<path d="M329.09 122.68L331.69 118.08L334.29 122.68Z" fill="#3a52ad"/>
<path d="M329.94 121.44L332.54 116.84L335.14 121.44Z" fill="#3a52ad"/>
<path d="M331.05 119.07L334.35 113.47L337.65 119.07Z" fill="#3a52ad"/>
<path d="M332.86 116.19L336.16 110.59L339.46 116.19Z" fill="#3a52ad"/>
<path d="M334.68 113.31L337.98 107.71L341.28 113.31Z" fill="#3a52ad"/>
<path d="M336.52 110.46L339.82 104.86L343.12 110.46Z" fill="#3a52ad"/>
<path d="M338.38 107.61L341.68 102.01L344.98 107.61Z" fill="#3a52ad"/>
<path d="M340.23 104.76L343.53 99.16L346.83 104.76Z" fill="#3a52ad"/>
<path d="M342.14 101.94L345.44 96.34L348.74 101.94Z" fill="#3a52ad"/>
<path d="M344.16 99.21L347.46 93.61L350.76 99.21Z" fill="#3a52ad"/>
<path d="M346.18 96.48L349.48 90.88L352.78 96.48Z" fill="#3a52ad"/>
<path d="M348.2 93.74L351.5 88.14L354.8 93.74Z" fill="#3a52ad"/>
<path d="M350.01 90.87L353.31 85.27L356.61 90.87Z" fill="#3a52ad"/>
<path d="M351.7 87.92L355 82.32L358.3 87.92Z" fill="#3a52ad"/>
<path d="M353.39 84.97L356.69 79.37L359.99 84.97Z" fill="#3a52ad"/>
<path d="M355.08 82.02L358.38 76.42L361.68 82.02Z" fill="#3a52ad"/>
<path d="M357.21 79.37L360.51 73.77L363.81 79.37Z" fill="#3a52ad"/>
<path d="M359.24 76.65L362.54 71.05L365.84 76.65Z" fill="#3a52ad"/>
<path d="M361.09 73.8L364.39 68.2L367.69 73.8Z" fill="#3a52ad"/>
<path d="M362.91 70.93L366.21 65.33L369.51 70.93Z" fill="#3a52ad"/>
<path d="M364.59 67.97L367.89 62.37L371.19 67.97Z" fill="#3a52ad"/>
<path d="M366.27 65.02L369.57 59.42L372.87 65.02Z" fill="#3a52ad"/>
<path d="M367.9 62.03L371.2 56.43L374.5 62.03Z" fill="#3a52ad"/>
<path d="M370.22 58.55L372.82 53.95L375.42 58.55Z" fill="#3a52ad"/>
<path d="M372.08 55.71L374.68 51.11L377.28 55.71Z" fill="#3a52ad"/>
<path d="M372.97 54.5L375.57 49.9L378.17 54.5Z" fill="#3a52ad"/>
<path d="M373.86 53.3L376.46 48.7L379.06 53.3Z" fill="#3a52ad"/>
<path d="M374.68 52.05L377.28 47.45L379.88 52.05Z" fill="#3a52ad"/>
<path d="M375.16 50.63L377.76 46.03L380.36 50.63Z" fill="#3a52ad"/>
<path d="M375.64 49.21L378.24 44.61L380.84 49.21Z" fill="#3a52ad"/>
<path d="M376.12 47.79L378.72 43.19L381.32 47.79Z" fill="#3a52ad"/>
<path d="M376.6 46.37L379.2 41.77L381.8 46.37Z" fill="#3a52ad"/>
<path d="M377.08 44.95L379.68 40.35L382.28 44.95Z" fill="#3a52ad"/>
<path d="M377.6 43.54L380.2 38.94L382.8 43.54Z" fill="#3a52ad"/>
<path d="M378.16 42.15L380.76 37.55L383.36 42.15Z" fill="#3a52ad"/>
<path d="M378.72 40.75L381.32 36.15L383.92 40.75Z" fill="#3a52ad"/>
<path d="M379.25 39.35L381.85 34.75L384.45 39.35Z" fill="#3a52ad"/>
<path d="M379.78 37.95L382.38 33.35L384.98 37.95Z" fill="#3a52ad"/>
<path d="M380.31 36.54L382.91 31.94L385.51 36.54Z" fill="#3a52ad"/>
<path d="M381.1 35.28L383.7 30.68L386.3 35.28Z" fill="#3a52ad"/>
<path d="M381.94 34.04L384.54 29.44L387.14 34.04Z" fill="#3a52ad"/>
<path d="M382.82 34.78L385.42 30.18L388.02 34.78Z" fill="#3a52ad"/>
<path d="M382.99 36.33L385.99 31.33L388.99 36.33Z" fill="#3a52ad"/>
<path d="M383.64 39.67L386.64 34.67L389.64 39.67Z" fill="#3a52ad"/>
<path d="M384.03 43.04L387.03 38.04L390.03 43.04Z" fill="#3a52ad"/>
<path d="M384.58 46.4L387.58 41.4L390.58 46.4Z" fill="#3a52ad"/>
<path d="M385.16 49.75L388.16 44.75L391.16 49.75Z" fill="#3a52ad"/>
<path d="M385.56 53.12L388.56 48.12L391.56 53.12Z" fill="#3a52ad"/>
<path d="M385.9 56.5L388.9 51.5L391.9 56.5Z" fill="#3a52ad"/>
<path d="M386.12 59.9L389.12 54.9L392.12 59.9Z" fill="#3a52ad"/>
<path d="M386.29 63.29L389.29 58.29L392.29 63.29Z" fill="#3a52ad"/>
<path d="M386.46 66.69L389.46 61.69L392.46 66.69Z" fill="#3a52ad"/>
<path d="M386.78 70.07L389.78 65.07L392.78 70.07Z" fill="#3a52ad"/>
<path d="M387.14 73.45L390.14 68.45L393.14 73.45Z" fill="#3a52ad"/>
<path d="M387.51 76.83L390.51 71.83L393.51 76.83Z" fill="#3a52ad"/>
<path d="M387.87 80.21L390.87 75.21L393.87 80.21Z" fill="#3a52ad"/>
<path d="M388.18 83.54L391.58 78.54L394.98 83.54Z" fill="#3a52ad"/>
<path d="M388.87 86.86L392.27 81.86L395.67 86.86Z" fill="#3a52ad"/>
<path d="M389.54 90.2L392.94 85.2L396.34 90.2Z" fill="#3a52ad"/>
<path d="M390.39 93.48L393.79 88.48L397.19 93.48Z" fill="#3a52ad"/>
<path d="M391.67 96.63L395.07 91.63L398.47 96.63Z" fill="#3a52ad"/>
<path d="M394.1 99.41L396.7 94.81L399.3 99.41Z" fill="#3a52ad"/>
<path d="M396.33 101.96L398.93 97.36L401.53 101.96Z" fill="#3a52ad"/>
<path d="M397.7 102.56L400.3 97.96L402.9 102.56Z" fill="#3a52ad"/>
<path d="M399.07 103.16L401.67 98.56L404.27 103.16Z" fill="#3a52ad"/>
<path d="M400.54 103.44L403.14 98.84L405.74 103.44Z" fill="#3a52ad"/>
<path d="M402.02 103.63L404.62 99.03L407.22 103.63Z" fill="#3a52ad"/>
<path d="M403.51 103.81L406.11 99.21L408.71 103.81Z" fill="#3a52ad"/>
<path d="M405 104L407.6 99.4L410.2 104Z" fill="#3a52ad"/>
<path d="M406.49 104.19L409.09 99.59L411.69 104.19Z" fill="#3a52ad"/>
<path d="M407.98 104.37L410.58 99.77L413.18 104.37Z" fill="#3a52ad"/>
<path d="M409.47 104.56L412.07 99.96L414.67 104.56Z" fill="#3a52ad"/>
<path d="M410.95 104.74L413.55 100.14L416.15 104.74Z" fill="#3a52ad"/>
<path d="M412.44 104.93L415.04 100.33L417.64 104.93Z" fill="#3a52ad"/>
<path d="M413.93 105.12L416.53 100.52L419.13 105.12Z" fill="#3a52ad"/>
<path d="M258.1 237.6L260.7 233L263.3 237.6Z" fill="#3a52ad"/>
<path d="M259.39 238.37L261.99 233.77L264.59 238.37Z" fill="#3a52ad"/>
<path d="M260.68 239.07L263.28 234.47L265.88 239.07Z" fill="#3a52ad"/>
<path d="M262.08 238.54L264.68 233.94L267.28 238.54Z" fill="#3a52ad"/>
<path d="M263.49 238.02L266.09 233.42L268.69 238.02Z" fill="#3a52ad"/>
<path d="M264.84 237.39L267.44 232.79L270.04 237.39Z" fill="#3a52ad"/>
<path d="M265.96 236.41L268.56 231.81L271.16 236.41Z" fill="#3a52ad"/>
<path d="M267.09 235.42L269.69 230.82L272.29 235.42Z" fill="#3a52ad"/>
<path d="M268.22 234.43L270.82 229.83L273.42 234.43Z" fill="#3a52ad"/>
<path d="M269.26 233.35L271.86 228.75L274.46 233.35Z" fill="#3a52ad"/>
<path d="M270.26 232.23L272.86 227.63L275.46 232.23Z" fill="#3a52ad"/>
<path d="M271.26 231.11L273.86 226.51L276.46 231.11Z" fill="#3a52ad"/>
<path d="M272.25 229.99L274.85 225.39L277.45 229.99Z" fill="#3a52ad"/>
<path d="M273.21 228.84L275.81 224.24L278.41 228.84Z" fill="#3a52ad"/>
<path d="M274.15 227.67L276.75 223.07L279.35 227.67Z" fill="#3a52ad"/>
<path d="M275.08 226.49L277.68 221.89L280.28 226.49Z" fill="#3a52ad"/>
<path d="M276.02 225.32L278.62 220.72L281.22 225.32Z" fill="#3a52ad"/>
<path d="M276.96 224.15L279.56 219.55L282.16 224.15Z" fill="#3a52ad"/>
<path d="M277.9 222.98L280.5 218.38L283.1 222.98Z" fill="#3a52ad"/>
<path d="M278.83 221.81L281.43 217.21L284.03 221.81Z" fill="#3a52ad"/>
<path d="M279.77 220.64L282.37 216.04L284.97 220.64Z" fill="#3a52ad"/>
<path d="M280.68 219.45L283.28 214.85L285.88 219.45Z" fill="#3a52ad"/>
<path d="M281.43 218.15L284.03 213.55L286.63 218.15Z" fill="#3a52ad"/>
<path d="M282.17 216.85L284.77 212.25L287.37 216.85Z" fill="#3a52ad"/>
<path d="M282.92 215.54L285.52 210.94L288.12 215.54Z" fill="#3a52ad"/>
<path d="M283.66 214.24L286.26 209.64L288.86 214.24Z" fill="#3a52ad"/>
<path d="M284.41 212.94L287.01 208.34L289.61 212.94Z" fill="#3a52ad"/>
<path d="M285.03 211.58L287.63 206.98L290.23 211.58Z" fill="#3a52ad"/>
<path d="M285.61 210.2L288.21 205.6L290.81 210.2Z" fill="#3a52ad"/>
<path d="M286.19 208.81L288.79 204.21L291.39 208.81Z" fill="#3a52ad"/>
<path d="M286.78 207.43L289.38 202.83L291.98 207.43Z" fill="#3a52ad"/>
<path d="M287.36 206.05L289.96 201.45L292.56 206.05Z" fill="#3a52ad"/>
<path d="M287.94 204.67L290.54 200.07L293.14 204.67Z" fill="#3a52ad"/>
<path d="M288.52 203.28L291.12 198.68L293.72 203.28Z" fill="#3a52ad"/>
<path d="M277.9 217.8L280.5 213.2L283.1 217.8Z" fill="#3a52ad"/>
<path d="M278.75 216.57L281.35 211.97L283.95 216.57Z" fill="#3a52ad"/>
<path d="M279.61 215.33L282.21 210.73L284.81 215.33Z" fill="#3a52ad"/>
<path d="M280.46 214.1L283.06 209.5L285.66 214.1Z" fill="#3a52ad"/>
<path d="M281.31 212.86L283.91 208.26L286.51 212.86Z" fill="#3a52ad"/>
<path d="M282.03 211.55L284.63 206.95L287.23 211.55Z" fill="#3a52ad"/>
<path d="M282.63 210.18L285.23 205.58L287.83 210.18Z" fill="#3a52ad"/>
<path d="M283.24 208.81L285.84 204.21L288.44 208.81Z" fill="#3a52ad"/>
<path d="M283.84 207.44L286.44 202.84L289.04 207.44Z" fill="#3a52ad"/>
<path d="M284.44 206.06L287.04 201.46L289.64 206.06Z" fill="#3a52ad"/>
<path d="M285.05 204.69L287.65 200.09L290.25 204.69Z" fill="#3a52ad"/>
<path d="M285.65 203.32L288.25 198.72L290.85 203.32Z" fill="#3a52ad"/>
<path d="M286.26 201.94L288.86 197.34L291.46 201.94Z" fill="#3a52ad"/>
<path d="M286.88 200.58L289.48 195.98L292.08 200.58Z" fill="#3a52ad"/>
<path d="M287.49 199.21L290.09 194.61L292.69 199.21Z" fill="#3a52ad"/>
<path d="M288.11 197.84L290.71 193.24L293.31 197.84Z" fill="#3a52ad"/>
<path d="M288.72 196.47L291.32 191.87L293.92 196.47Z" fill="#3a52ad"/>
<path d="M289.34 195.11L291.94 190.51L294.54 195.11Z" fill="#3a52ad"/>
<path d="M289.95 193.74L292.55 189.14L295.15 193.74Z" fill="#3a52ad"/>
<path d="M290.57 192.37L293.17 187.77L295.77 192.37Z" fill="#3a52ad"/>
<path d="M291.18 191L293.78 186.4L296.38 191Z" fill="#3a52ad"/>
<path d="M291.79 189.63L294.39 185.03L296.99 189.63Z" fill="#3a52ad"/>
<path d="M292.4 188.26L295 183.66L297.6 188.26Z" fill="#3a52ad"/>
<path d="M293.01 186.89L295.61 182.29L298.21 186.89Z" fill="#3a52ad"/>
<path d="M293.62 185.52L296.22 180.92L298.82 185.52Z" fill="#3a52ad"/>
<path d="M294.22 184.15L296.82 179.55L299.42 184.15Z" fill="#3a52ad"/>
<path d="M256.2 231.9L258.8 227.3L261.4 231.9Z" fill="#3a52ad"/>
<path d="M256.8 233.8L259.4 229.2L262 233.8Z" fill="#3a52ad"/>
<path d="M379.4 37.3L382 32.7L384.6 37.3Z" fill="#3a52ad"/>
<path d="M380.27 36.81L382.87 32.21L385.47 36.81Z" fill="#3a52ad"/>
<path d="M381.15 36.33L383.75 31.73L386.35 36.33Z" fill="#3a52ad"/>
<path d="M382.02 35.84L384.62 31.24L387.22 35.84Z" fill="#3a52ad"/>
<path d="M382.8 36.38L385.4 31.78L388 36.38Z" fill="#3a52ad"/>
<path d="M383.57 37.02L386.17 32.42L388.77 37.02Z" fill="#3a52ad"/>
<path d="M392 95.9L394.8 91.1L397.6 95.9Z" fill="#3a52ad"/>
<path d="M392.87 97.12L395.67 92.32L398.47 97.12Z" fill="#3a52ad"/>
<path d="M393.74 98.34L396.54 93.54L399.34 98.34Z" fill="#3a52ad"/>
<path d="M394.78 99.42L397.58 94.62L400.38 99.42Z" fill="#3a52ad"/>
<path d="M395.88 100.43L398.68 95.63L401.48 100.43Z" fill="#3a52ad"/>
<path d="M397.11 101.27L399.91 96.47L402.71 101.27Z" fill="#3a52ad"/>
<path d="M398.48 101.87L401.28 97.07L404.08 101.87Z" fill="#3a52ad"/>
<path d="M420.1 106.7L422.9 102.1L425.7 106.7Z" fill="#3a52ad"/>
<path d="M425.8 107.3L428.6 102.7L431.4 107.3Z" fill="#3a52ad"/>
<path d="M430.9 107.9L433.7 103.3L436.5 107.9Z" fill="#3a52ad"/>
<path d="M435.7 108.3L438.5 103.7L441.3 108.3Z" fill="#3a52ad"/>
<rect x="336.5" y="138.5" width="94.5" height="88.5" fill="#fff" stroke="#c8c8c8" stroke-width="1"/>
<rect x="369.2" y="139.0" width="2.6" height="87.5" fill="#dcdcdc"/>
<rect x="381.6" y="139.0" width="3" height="87.5" fill="#8a8a8a"/>
<rect x="382.4" y="139.0" width="1.4" height="87.5" fill="#606060"/>
<rect x="344.69" y="139.0" width="0.8" height="2" fill="#b0b0b0"/>
<rect x="344.69" y="224.5" width="0.8" height="2" fill="#b0b0b0"/>
<rect x="353.28" y="139.0" width="0.8" height="2" fill="#b0b0b0"/>
<rect x="353.28" y="224.5" width="0.8" height="2" fill="#b0b0b0"/>
<rect x="361.87" y="139.0" width="0.8" height="2" fill="#b0b0b0"/>
<rect x="361.87" y="224.5" width="0.8" height="2" fill="#b0b0b0"/>
<rect x="370.46" y="139.0" width="0.8" height="2" fill="#b0b0b0"/>
<rect x="370.46" y="224.5" width="0.8" height="2" fill="#b0b0b0"/>
<rect x="379.05" y="139.0" width="0.8" height="2" fill="#b0b0b0"/>
<rect x="379.05" y="224.5" width="0.8" height="2" fill="#b0b0b0"/>
<rect x="387.65" y="139.0" width="0.8" height="2" fill="#b0b0b0"/>
<rect x="387.65" y="224.5" width="0.8" height="2" fill="#b0b0b0"/>
<rect x="396.24" y="139.0" width="0.8" height="2" fill="#b0b0b0"/>
<rect x="396.24" y="224.5" width="0.8" height="2" fill="#b0b0b0"/>
<rect x="404.83" y="139.0" width="0.8" height="2" fill="#b0b0b0"/>
<rect x="404.83" y="224.5" width="0.8" height="2" fill="#b0b0b0"/>
<rect x="413.42" y="139.0" width="0.8" height="2" fill="#b0b0b0"/>
<rect x="413.42" y="224.5" width="0.8" height="2" fill="#b0b0b0"/>
<rect x="422.01" y="139.0" width="0.8" height="2" fill="#b0b0b0"/>
<rect x="422.01" y="224.5" width="0.8" height="2" fill="#b0b0b0"/>
<rect x="430.6" y="139.0" width="0.8" height="2" fill="#b0b0b0"/>
<rect x="430.6" y="224.5" width="0.8" height="2" fill="#b0b0b0"/>
<rect x="337.0" y="207.1" width="2" height="0.8" fill="#b0b0b0"/>
<rect x="428.5" y="207.1" width="2" height="0.8" fill="#b0b0b0"/>
<rect x="337.0" y="187.85" width="2" height="0.8" fill="#b0b0b0"/>
<rect x="428.5" y="187.85" width="2" height="0.8" fill="#b0b0b0"/>
<rect x="337.0" y="168.6" width="2" height="0.8" fill="#b0b0b0"/>
<rect x="428.5" y="168.6" width="2" height="0.8" fill="#b0b0b0"/>
<rect x="337.0" y="149.35" width="2" height="0.8" fill="#b0b0b0"/>
<rect x="428.5" y="149.35" width="2" height="0.8" fill="#b0b0b0"/>
<circle cx="336.8" cy="158.3" r="1.65" fill="#000"/>
<circle cx="336.3" cy="157.75" r="0.7" fill="#fff" fill-opacity="0.9"/>
<circle cx="338.91" cy="157.39" r="1.65" fill="#000"/>
<circle cx="338.41" cy="156.84" r="0.7" fill="#fff" fill-opacity="0.9"/>
<circle cx="341.03" cy="156.49" r="1.65" fill="#000"/>
<circle cx="340.53" cy="155.94" r="0.7" fill="#fff" fill-opacity="0.9"/>
<circle cx="343.18" cy="155.67" r="1.65" fill="#000"/>
<circle cx="342.68" cy="155.12" r="0.7" fill="#fff" fill-opacity="0.9"/>
<circle cx="345.33" cy="154.86" r="1.65" fill="#000"/>
<circle cx="344.83" cy="154.31" r="0.7" fill="#fff" fill-opacity="0.9"/>
<circle cx="347.46" cy="153.99" r="1.65" fill="#000"/>
<circle cx="346.96" cy="153.44" r="0.7" fill="#fff" fill-opacity="0.9"/>
<circle cx="349.58" cy="153.1" r="1.65" fill="#000"/>
<circle cx="349.08" cy="152.55" r="0.7" fill="#fff" fill-opacity="0.9"/>
<circle cx="351.73" cy="152.31" r="1.65" fill="#000"/>
<circle cx="351.23" cy="151.76" r="0.7" fill="#fff" fill-opacity="0.9"/>
<circle cx="353.96" cy="151.73" r="1.65" fill="#000"/>
<circle cx="353.46" cy="151.18" r="0.7" fill="#fff" fill-opacity="0.9"/>
<circle cx="356.19" cy="151.16" r="1.65" fill="#000"/>
<circle cx="355.69" cy="150.61" r="0.7" fill="#fff" fill-opacity="0.9"/>
<circle cx="358.45" cy="151.24" r="1.65" fill="#000"/>
<circle cx="357.95" cy="150.69" r="0.7" fill="#fff" fill-opacity="0.9"/>
<circle cx="360.73" cy="151.56" r="1.65" fill="#000"/>
<circle cx="360.23" cy="151.01" r="0.7" fill="#fff" fill-opacity="0.9"/>
<circle cx="362.84" cy="152.45" r="1.65" fill="#000"/>
<circle cx="362.34" cy="151.9" r="0.7" fill="#fff" fill-opacity="0.9"/>
<circle cx="364.89" cy="153.46" r="1.65" fill="#000"/>
<circle cx="364.39" cy="152.91" r="0.7" fill="#fff" fill-opacity="0.9"/>
<circle cx="366.64" cy="154.96" r="1.65" fill="#000"/>
<circle cx="366.14" cy="154.41" r="0.7" fill="#fff" fill-opacity="0.9"/>
<circle cx="368.26" cy="156.58" r="1.65" fill="#000"/>
<circle cx="367.76" cy="156.03" r="0.7" fill="#fff" fill-opacity="0.9"/>
<circle cx="369.76" cy="158.32" r="1.65" fill="#000"/>
<circle cx="369.26" cy="157.77" r="0.7" fill="#fff" fill-opacity="0.9"/>
<circle cx="371.2" cy="160.12" r="1.65" fill="#000"/>
<circle cx="370.7" cy="159.57" r="0.7" fill="#fff" fill-opacity="0.9"/>
<circle cx="372.63" cy="161.92" r="1.65" fill="#000"/>
<circle cx="372.13" cy="161.37" r="0.7" fill="#fff" fill-opacity="0.9"/>
<circle cx="373.98" cy="163.79" r="1.65" fill="#000"/>
<circle cx="373.48" cy="163.24" r="0.7" fill="#fff" fill-opacity="0.9"/>
<circle cx="375.3" cy="165.67" r="1.65" fill="#000"/>
<circle cx="374.8" cy="165.12" r="0.7" fill="#fff" fill-opacity="0.9"/>
<circle cx="376.44" cy="167.67" r="1.65" fill="#000"/>
<circle cx="375.94" cy="167.12" r="0.7" fill="#fff" fill-opacity="0.9"/>
<circle cx="377.48" cy="169.71" r="1.65" fill="#000"/>
<circle cx="376.98" cy="169.16" r="0.7" fill="#fff" fill-opacity="0.9"/>
<circle cx="378.31" cy="171.85" r="1.65" fill="#000"/>
<circle cx="377.81" cy="171.3" r="0.7" fill="#fff" fill-opacity="0.9"/>
<circle cx="379.15" cy="174" r="1.65" fill="#000"/>
<circle cx="378.65" cy="173.45" r="0.7" fill="#fff" fill-opacity="0.9"/>
<circle cx="380.06" cy="176.11" r="1.65" fill="#000"/>
<circle cx="379.56" cy="175.56" r="0.7" fill="#fff" fill-opacity="0.9"/>
<circle cx="381.02" cy="178.2" r="1.65" fill="#000"/>
<circle cx="380.52" cy="177.65" r="0.7" fill="#fff" fill-opacity="0.9"/>
<circle cx="381.98" cy="180.29" r="1.65" fill="#000"/>
<circle cx="381.48" cy="179.74" r="0.7" fill="#fff" fill-opacity="0.9"/>
<circle cx="382.94" cy="182.38" r="1.65" fill="#000"/>
<circle cx="382.44" cy="181.83" r="0.7" fill="#fff" fill-opacity="0.9"/>
<circle cx="383.89" cy="184.47" r="1.65" fill="#000"/>
<circle cx="383.39" cy="183.92" r="0.7" fill="#fff" fill-opacity="0.9"/>
<circle cx="384.83" cy="186.57" r="1.65" fill="#000"/>
<circle cx="384.33" cy="186.02" r="0.7" fill="#fff" fill-opacity="0.9"/>
<circle cx="385.79" cy="188.66" r="1.65" fill="#000"/>
<circle cx="385.29" cy="188.11" r="0.7" fill="#fff" fill-opacity="0.9"/>
<circle cx="386.93" cy="190.66" r="1.65" fill="#000"/>
<circle cx="386.43" cy="190.11" r="0.7" fill="#fff" fill-opacity="0.9"/>
<circle cx="388.07" cy="192.66" r="1.65" fill="#000"/>
<circle cx="387.57" cy="192.11" r="0.7" fill="#fff" fill-opacity="0.9"/>
<circle cx="389.2" cy="194.66" r="1.65" fill="#000"/>
<circle cx="388.7" cy="194.11" r="0.7" fill="#fff" fill-opacity="0.9"/>
<circle cx="390.5" cy="196.55" r="1.65" fill="#000"/>
<circle cx="390" cy="196" r="0.7" fill="#fff" fill-opacity="0.9"/>
<circle cx="391.83" cy="198.43" r="1.65" fill="#000"/>
<circle cx="391.33" cy="197.88" r="0.7" fill="#fff" fill-opacity="0.9"/>
<circle cx="393.15" cy="200.31" r="1.65" fill="#000"/>
<circle cx="392.65" cy="199.76" r="0.7" fill="#fff" fill-opacity="0.9"/>
<circle cx="394.73" cy="201.98" r="1.65" fill="#000"/>
<circle cx="394.23" cy="201.43" r="0.7" fill="#fff" fill-opacity="0.9"/>
<circle cx="396.39" cy="203.57" r="1.65" fill="#000"/>
<circle cx="395.89" cy="203.02" r="0.7" fill="#fff" fill-opacity="0.9"/>
<circle cx="398.05" cy="205.16" r="1.65" fill="#000"/>
<circle cx="397.55" cy="204.61" r="0.7" fill="#fff" fill-opacity="0.9"/>
<circle cx="399.84" cy="206.6" r="1.65" fill="#000"/>
<circle cx="399.34" cy="206.05" r="0.7" fill="#fff" fill-opacity="0.9"/>
<circle cx="401.66" cy="208.01" r="1.65" fill="#000"/>
<circle cx="401.16" cy="207.46" r="0.7" fill="#fff" fill-opacity="0.9"/>
<circle cx="403.6" cy="209.24" r="1.65" fill="#000"/>
<circle cx="403.1" cy="208.69" r="0.7" fill="#fff" fill-opacity="0.9"/>
<circle cx="405.6" cy="210.37" r="1.65" fill="#000"/>
<circle cx="405.1" cy="209.82" r="0.7" fill="#fff" fill-opacity="0.9"/>
<circle cx="407.64" cy="211.42" r="1.65" fill="#000"/>
<circle cx="407.14" cy="210.87" r="0.7" fill="#fff" fill-opacity="0.9"/>
<circle cx="409.75" cy="212.35" r="1.65" fill="#000"/>
<circle cx="409.25" cy="211.8" r="0.7" fill="#fff" fill-opacity="0.9"/>
<circle cx="411.91" cy="213.11" r="1.65" fill="#000"/>
<circle cx="411.41" cy="212.56" r="0.7" fill="#fff" fill-opacity="0.9"/>
<circle cx="414.15" cy="213.61" r="1.65" fill="#000"/>
<circle cx="413.65" cy="213.06" r="0.7" fill="#fff" fill-opacity="0.9"/>
<circle cx="416.39" cy="214.12" r="1.65" fill="#000"/>
<circle cx="415.89" cy="213.57" r="0.7" fill="#fff" fill-opacity="0.9"/>
<circle cx="418.64" cy="214.62" r="1.65" fill="#000"/>
<circle cx="418.14" cy="214.07" r="0.7" fill="#fff" fill-opacity="0.9"/>
<circle cx="420.92" cy="214.93" r="1.65" fill="#000"/>
<circle cx="420.42" cy="214.38" r="0.7" fill="#fff" fill-opacity="0.9"/>
<circle cx="423.2" cy="215.25" r="1.65" fill="#000"/>
<circle cx="422.7" cy="214.7" r="0.7" fill="#fff" fill-opacity="0.9"/>
<circle cx="425.48" cy="215.55" r="1.65" fill="#000"/>
<circle cx="424.98" cy="215" r="0.7" fill="#fff" fill-opacity="0.9"/>
<circle cx="427.76" cy="215.78" r="1.65" fill="#000"/>
<circle cx="427.26" cy="215.23" r="0.7" fill="#fff" fill-opacity="0.9"/>
<path d="M334.7 166.05L336.8 162.35L338.9 166.05Z" fill="#3a52ad"/>
<path d="M335.91 165.56L338.01 161.86L340.11 165.56Z" fill="#3a52ad"/>
<path d="M337.11 165.07L339.21 161.37L341.31 165.07Z" fill="#3a52ad"/>
<path d="M338.32 164.59L340.42 160.89L342.52 164.59Z" fill="#3a52ad"/>
<path d="M339.53 164.13L341.63 160.43L343.73 164.13Z" fill="#3a52ad"/>
<path d="M340.76 163.72L342.86 160.02L344.96 163.72Z" fill="#3a52ad"/>
<path d="M341.99 163.3L344.09 159.6L346.19 163.3Z" fill="#3a52ad"/>
<path d="M343.23 162.88L345.33 159.18L347.43 162.88Z" fill="#3a52ad"/>
<path d="M344.42 162.38L346.52 158.68L348.62 162.38Z" fill="#3a52ad"/>
<path d="M345.57 161.78L347.67 158.08L349.77 161.78Z" fill="#3a52ad"/>
<path d="M346.73 161.18L348.83 157.48L350.93 161.18Z" fill="#3a52ad"/>
<path d="M347.88 160.58L349.98 156.88L352.08 160.58Z" fill="#3a52ad"/>
<path d="M349.04 160L351.14 156.3L353.24 160Z" fill="#3a52ad"/>
<path d="M350.26 159.54L352.36 155.84L354.46 159.54Z" fill="#3a52ad"/>
<path d="M351.48 159.08L353.58 155.38L355.68 159.08Z" fill="#3a52ad"/>
<path d="M352.69 158.63L354.79 154.93L356.89 158.63Z" fill="#3a52ad"/>
<path d="M353.95 158.79L356.05 155.09L358.15 158.79Z" fill="#3a52ad"/>
<path d="M355.22 159.08L357.32 155.38L359.42 159.08Z" fill="#3a52ad"/>
<path d="M356.47 159.41L358.57 155.71L360.67 159.41Z" fill="#3a52ad"/>
<path d="M358.49 161.04L360.59 157.34L362.69 161.04Z" fill="#3a52ad"/>
<path d="M360.2 162.96L362.3 159.26L364.4 162.96Z" fill="#3a52ad"/>
<path d="M361.58 165.16L363.68 161.46L365.78 165.16Z" fill="#3a52ad"/>
<path d="M362.76 167.47L364.86 163.77L366.96 167.47Z" fill="#3a52ad"/>
<path d="M363.93 169.79L366.03 166.09L368.13 169.79Z" fill="#3a52ad"/>
<path d="M365.12 172.11L367.22 168.41L369.32 172.11Z" fill="#3a52ad"/>
<path d="M366.29 174.43L368.39 170.73L370.49 174.43Z" fill="#3a52ad"/>
<path d="M367.45 176.75L369.55 173.05L371.65 176.75Z" fill="#3a52ad"/>
<path d="M368.52 179.12L370.62 175.42L372.72 179.12Z" fill="#3a52ad"/>
<path d="M369.58 181.5L371.68 177.8L373.78 181.5Z" fill="#3a52ad"/>
<path d="M370.59 183.9L372.69 180.2L374.79 183.9Z" fill="#3a52ad"/>
<path d="M371.57 186.3L373.67 182.6L375.77 186.3Z" fill="#3a52ad"/>
<path d="M372.5 188.73L374.6 185.03L376.7 188.73Z" fill="#3a52ad"/>
<path d="M373.43 191.16L375.53 187.46L377.63 191.16Z" fill="#3a52ad"/>
<path d="M374.46 193.54L376.56 189.84L378.66 193.54Z" fill="#3a52ad"/>
<path d="M375.53 195.92L377.63 192.22L379.73 195.92Z" fill="#3a52ad"/>
<path d="M376.64 198.27L378.74 194.57L380.84 198.27Z" fill="#3a52ad"/>
<path d="M377.91 200.53L380.01 196.83L382.11 200.53Z" fill="#3a52ad"/>
<path d="M379.19 202.8L381.29 199.1L383.39 202.8Z" fill="#3a52ad"/>
<path d="M380.65 204.94L382.75 201.24L384.85 204.94Z" fill="#3a52ad"/>
<path d="M382.17 207.05L384.27 203.35L386.37 207.05Z" fill="#3a52ad"/>
<path d="M383.91 208.94L386.01 205.24L388.11 208.94Z" fill="#3a52ad"/>
<path d="M386.01 210.47L388.11 206.77L390.21 210.47Z" fill="#3a52ad"/>
<path d="M388.11 212L390.21 208.3L392.31 212Z" fill="#3a52ad"/>
<path d="M389.9 213.28L392 209.58L394.1 213.28Z" fill="#3a52ad"/>
<path d="M391.69 214.56L393.79 210.86L395.89 214.56Z" fill="#3a52ad"/>
<path d="M393.63 215.6L395.73 211.9L397.83 215.6Z" fill="#3a52ad"/>
<path d="M395.61 216.56L397.71 212.86L399.81 216.56Z" fill="#3a52ad"/>
<path d="M397.59 217.52L399.69 213.82L401.79 217.52Z" fill="#3a52ad"/>
<path d="M399.56 218.49L401.66 214.79L403.76 218.49Z" fill="#3a52ad"/>
<path d="M401.66 219.14L403.76 215.44L405.86 219.14Z" fill="#3a52ad"/>
<path d="M403.78 219.73L405.88 216.03L407.98 219.73Z" fill="#3a52ad"/>
<path d="M405.9 220.32L408 216.62L410.1 220.32Z" fill="#3a52ad"/>
<path d="M408.02 220.91L410.12 217.21L412.22 220.91Z" fill="#3a52ad"/>
<path d="M410.17 221.36L412.27 217.66L414.37 221.36Z" fill="#3a52ad"/>
<path d="M412.34 221.72L414.44 218.02L416.54 221.72Z" fill="#3a52ad"/>
<path d="M414.51 222.08L416.61 218.38L418.71 222.08Z" fill="#3a52ad"/>
<path d="M416.68 222.45L418.78 218.75L420.88 222.45Z" fill="#3a52ad"/>
<path d="M418.86 222.75L420.96 219.05L423.06 222.75Z" fill="#3a52ad"/>
<path d="M421.05 222.96L423.15 219.26L425.25 222.96Z" fill="#3a52ad"/>
<path d="M423.23 223.18L425.33 219.48L427.43 223.18Z" fill="#3a52ad"/>
<path d="M425.42 223.4L427.52 219.7L429.62 223.4Z" fill="#3a52ad"/>
<path d="M427.61 223.62L429.71 219.92L431.81 223.62Z" fill="#3a52ad"/>
<path d="M334.9 167.45L337 163.75L339.1 167.45Z" fill="#3a52ad"/>
<path d="M336.11 166.97L338.21 163.27L340.31 166.97Z" fill="#3a52ad"/>
<path d="M337.31 166.48L339.41 162.78L341.51 166.48Z" fill="#3a52ad"/>
<path d="M338.52 166L340.62 162.3L342.72 166Z" fill="#3a52ad"/>
<path d="M339.74 165.55L341.84 161.85L343.94 165.55Z" fill="#3a52ad"/>
<path d="M340.96 165.11L343.06 161.41L345.16 165.11Z" fill="#3a52ad"/>
<path d="M342.19 164.67L344.29 160.97L346.39 164.67Z" fill="#3a52ad"/>
<path d="M343.41 164.23L345.51 160.53L347.61 164.23Z" fill="#3a52ad"/>
<path d="M344.59 163.69L346.69 159.99L348.79 163.69Z" fill="#3a52ad"/>
<path d="M345.74 163.09L347.84 159.39L349.94 163.09Z" fill="#3a52ad"/>
<path d="M346.9 162.49L349 158.79L351.1 162.49Z" fill="#3a52ad"/>
<path d="M348.05 161.89L350.15 158.19L352.25 161.89Z" fill="#3a52ad"/>
<path d="M349.22 161.34L351.32 157.64L353.42 161.34Z" fill="#3a52ad"/>
<path d="M350.45 160.91L352.55 157.21L354.65 160.91Z" fill="#3a52ad"/>
<path d="M351.68 160.48L353.78 156.78L355.88 160.48Z" fill="#3a52ad"/>
<path d="M352.9 160.05L355 156.35L357.1 160.05Z" fill="#3a52ad"/>
<path d="M354.17 160.34L356.27 156.64L358.37 160.34Z" fill="#3a52ad"/>
<path d="M355.44 160.63L357.54 156.93L359.64 160.63Z" fill="#3a52ad"/>
<text x="36.2" y="8.3" font-size="10.5" text-anchor="end" >8</text>
<text x="36.2" y="131.8" font-size="10.5" text-anchor="end" >6</text>
<text x="36.2" y="255.5" font-size="10.5" text-anchor="end" >4</text>
<text x="43" y="266" font-size="10.5" text-anchor="middle" >0</text>
<text x="81.75" y="266" font-size="10.5" text-anchor="middle" >20</text>
<text x="120.5" y="266" font-size="10.5" text-anchor="middle" >40</text>
<text x="159.25" y="266" font-size="10.5" text-anchor="middle" >60</text>
<text x="198" y="266" font-size="10.5" text-anchor="middle" >80</text>
<text x="120.5" y="285" font-size="12" text-anchor="middle" >T (K)</text>
<text x="50.5" y="25" font-size="12" text-anchor="start" >(a)</text>
<text x="248.3" y="255.5" font-size="10.5" text-anchor="end" >0.0</text>
<text x="248.3" y="152.5" font-size="10.5" text-anchor="end" >0.5</text>
<text x="248.3" y="50" font-size="10.5" text-anchor="end" >1.0</text>
<text x="254" y="266" font-size="10.5" text-anchor="middle" >0</text>
<text x="300.25" y="266" font-size="10.5" text-anchor="middle" >20</text>
<text x="346.5" y="266" font-size="10.5" text-anchor="middle" >40</text>
<text x="392.75" y="266" font-size="10.5" text-anchor="middle" >60</text>
<text x="439" y="266" font-size="10.5" text-anchor="middle" >80</text>
<text x="347.3" y="284.1" font-size="12" text-anchor="middle" >T (K)</text>
<text x="266.5" y="25.5" font-size="12" text-anchor="start" >(b)</text>
<circle cx="56.4" cy="114.3" r="3.3" fill="#000"/><circle cx="55.24" cy="113.05" r="1.12" fill="#fff" fill-opacity="0.8"/>
<path d="M52.5 127.1L56.4 121.3L60.3 127.1Z" fill="#3a52ad"/>
<text x="70.6" y="117.4" font-size="10" text-anchor="start" >NpFeAsO</text>
<text x="70.6" y="129.2" font-size="10">NpFeAsO<tspan font-size="6.4" dx="-0.7" dy="4.4">0.85</tspan><tspan dx="-0.9" dy="-4.4">F</tspan><tspan font-size="6.4" dx="0.1" dy="4.4">0.15</tspan></text>
<circle cx="270.5" cy="43.2" r="3.3" fill="#000"/><circle cx="269.35" cy="41.95" r="1.12" fill="#fff" fill-opacity="0.8"/>
<path d="M266.6 56L270.5 50.2L274.4 56Z" fill="#3a52ad"/>
<text x="284.8" y="46.3" font-size="10" text-anchor="start" >NpFeAsO</text>
<text x="284.8" y="58.1" font-size="10">NpFeAsO<tspan font-size="6.4" dx="-0.7" dy="4.4">0.85</tspan><tspan dx="-0.9" dy="-4.4">F</tspan><tspan font-size="6.4" dx="0.1" dy="4.4">0.15</tspan></text>
<text x="52.3" y="149.8" font-size="10" text-anchor="start" ><tspan font-family="Liberation Serif" font-style="italic" font-size="11">&#967;</tspan> = &#916;M/&#916;H</text>
<text x="52.3" y="161.7" font-size="10" text-anchor="start" >&#916;H = 20 kOe</text>
<text transform="translate(12.6,138.2) rotate(-90)" font-size="12.3" text-anchor="middle"><tspan font-family="Liberation Serif" font-style="italic" font-size="13">&#967;</tspan> (emu mol<tspan font-size="7.5" dy="-4.5">-1</tspan><tspan dy="4.5">) x </tspan><tspan dx="0.9">10</tspan><tspan font-size="7.5" dy="-4.5">-3</tspan></text>
<text transform="translate(222.8,139.6) rotate(-90)" font-size="12.3" text-anchor="middle">C<tspan font-size="7.5" dy="3">p</tspan><tspan dy="-3">/T (J Np-mol</tspan><tspan font-size="7.5" dy="-4.5">-1</tspan><tspan dy="4.5"> K</tspan><tspan font-size="7.5" dy="-4.5">-2</tspan><tspan dy="4.5">)</tspan></text>
<text x="345.09" y="238.3" font-size="8.5" text-anchor="middle" >55</text>
<text x="388.05" y="238.3" font-size="8.5" text-anchor="middle" >60</text>
<text x="431" y="238.3" font-size="8.5" text-anchor="middle" >65</text>
<text x="382.8" y="248.2" font-size="9.6" text-anchor="middle" >T (K)</text>
<text x="334" y="210.4" font-size="8.5" text-anchor="end" >0.8</text>
<text x="334" y="171.9" font-size="8.5" text-anchor="end" >1.0</text>
<text transform="translate(321,190.6) rotate(-90)" font-size="9" text-anchor="middle">C<tspan font-size="5.8" dy="2.6">p</tspan><tspan dy="-2.6">/T</tspan></text>
</svg>
</body></html>
